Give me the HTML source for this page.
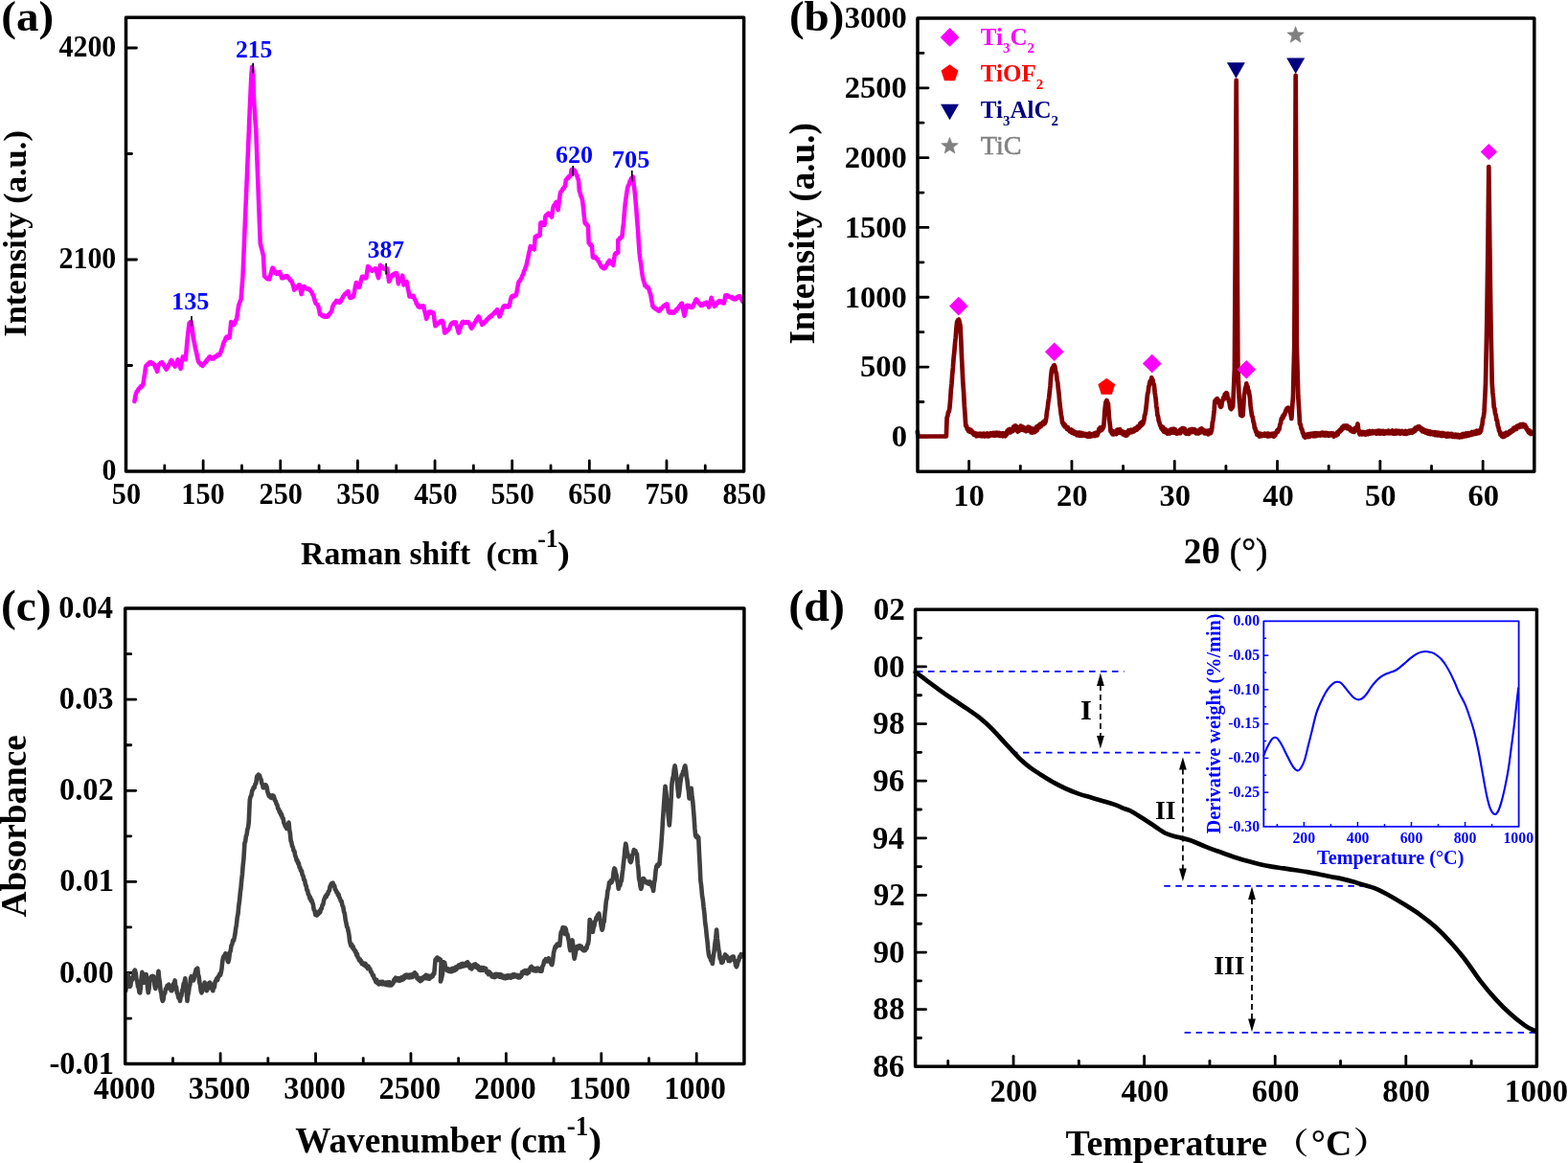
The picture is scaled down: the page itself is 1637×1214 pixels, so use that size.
<!DOCTYPE html>
<html><head><meta charset="utf-8"><title>Figure</title>
<style>html,body{margin:0;padding:0;background:#fff;width:1637px;height:1214px;overflow:hidden}svg{display:block}
text{font-family:'Liberation Serif','Times New Roman','Noto Serif CJK SC',serif}</style></head>
<body><svg width="1637" height="1214" viewBox="0 0 1637 1214">
<rect width="1637" height="1214" fill="#fff"/>
<line x1="171.82" y1="492" x2="171.82" y2="486" stroke="#000" stroke-width="2.8" stroke-linecap="round"/>
<line x1="212.14" y1="492" x2="212.14" y2="481" stroke="#000" stroke-width="2.8" stroke-linecap="round"/>
<line x1="252.46" y1="492" x2="252.46" y2="486" stroke="#000" stroke-width="2.8" stroke-linecap="round"/>
<line x1="292.77" y1="492" x2="292.77" y2="481" stroke="#000" stroke-width="2.8" stroke-linecap="round"/>
<line x1="333.09" y1="492" x2="333.09" y2="486" stroke="#000" stroke-width="2.8" stroke-linecap="round"/>
<line x1="373.41" y1="492" x2="373.41" y2="481" stroke="#000" stroke-width="2.8" stroke-linecap="round"/>
<line x1="413.73" y1="492" x2="413.73" y2="486" stroke="#000" stroke-width="2.8" stroke-linecap="round"/>
<line x1="454.05" y1="492" x2="454.05" y2="481" stroke="#000" stroke-width="2.8" stroke-linecap="round"/>
<line x1="494.37" y1="492" x2="494.37" y2="486" stroke="#000" stroke-width="2.8" stroke-linecap="round"/>
<line x1="534.69" y1="492" x2="534.69" y2="481" stroke="#000" stroke-width="2.8" stroke-linecap="round"/>
<line x1="575.01" y1="492" x2="575.01" y2="486" stroke="#000" stroke-width="2.8" stroke-linecap="round"/>
<line x1="615.33" y1="492" x2="615.33" y2="481" stroke="#000" stroke-width="2.8" stroke-linecap="round"/>
<line x1="655.64" y1="492" x2="655.64" y2="486" stroke="#000" stroke-width="2.8" stroke-linecap="round"/>
<line x1="695.96" y1="492" x2="695.96" y2="481" stroke="#000" stroke-width="2.8" stroke-linecap="round"/>
<line x1="736.28" y1="492" x2="736.28" y2="486" stroke="#000" stroke-width="2.8" stroke-linecap="round"/>
<line x1="776.6" y1="492" x2="776.6" y2="481" stroke="#000" stroke-width="2.8" stroke-linecap="round"/>
<line x1="131.5" y1="381.5" x2="137.5" y2="381.5" stroke="#000" stroke-width="2.8" stroke-linecap="round"/>
<line x1="131.5" y1="271" x2="142.5" y2="271" stroke="#000" stroke-width="2.8" stroke-linecap="round"/>
<line x1="131.5" y1="160.5" x2="137.5" y2="160.5" stroke="#000" stroke-width="2.8" stroke-linecap="round"/>
<line x1="131.5" y1="50" x2="142.5" y2="50" stroke="#000" stroke-width="2.8" stroke-linecap="round"/>
<text x="116.86" y="526.2" font-size="31" text-anchor="start" font-weight="bold" fill="#000" textLength="30.23" lengthAdjust="spacingAndGlyphs">50</text>
<text x="189.33" y="526.2" font-size="31" text-anchor="start" font-weight="bold" fill="#000" textLength="45.34" lengthAdjust="spacingAndGlyphs">150</text>
<text x="270.55" y="526.2" font-size="31" text-anchor="start" font-weight="bold" fill="#000" textLength="45.34" lengthAdjust="spacingAndGlyphs">250</text>
<text x="351.25" y="526.2" font-size="31" text-anchor="start" font-weight="bold" fill="#000" textLength="45.34" lengthAdjust="spacingAndGlyphs">350</text>
<text x="432.25" y="526.2" font-size="31" text-anchor="start" font-weight="bold" fill="#000" textLength="45.34" lengthAdjust="spacingAndGlyphs">450</text>
<text x="512.49" y="526.2" font-size="31" text-anchor="start" font-weight="bold" fill="#000" textLength="45.34" lengthAdjust="spacingAndGlyphs">550</text>
<text x="593.22" y="526.2" font-size="31" text-anchor="start" font-weight="bold" fill="#000" textLength="45.34" lengthAdjust="spacingAndGlyphs">650</text>
<text x="673.51" y="526.2" font-size="31" text-anchor="start" font-weight="bold" fill="#000" textLength="45.34" lengthAdjust="spacingAndGlyphs">750</text>
<text x="754.51" y="526.2" font-size="31" text-anchor="start" font-weight="bold" fill="#000" textLength="45.34" lengthAdjust="spacingAndGlyphs">850</text>
<text x="106.38" y="500.8" font-size="31" text-anchor="start" font-weight="bold" fill="#000" textLength="14.96" lengthAdjust="spacingAndGlyphs">0</text>
<text x="61.51" y="279.8" font-size="31" text-anchor="start" font-weight="bold" fill="#000" textLength="59.83" lengthAdjust="spacingAndGlyphs">2100</text>
<text x="61.51" y="58.8" font-size="31" text-anchor="start" font-weight="bold" fill="#000" textLength="59.83" lengthAdjust="spacingAndGlyphs">4200</text>
<path d="M140.4 419 L141.9 410.9 L142.87 408.76 L143.83 407.96 L144.8 405.7 L145.7 405.42 L146.6 403.67 L147.5 404.04 L148.4 402.4 L149.3 402 L150.27 395.01 L151.23 389.3 L152.2 382 L153.1 381.65 L154 380.07 L154.9 380.42 L155.8 378.46 L156.7 378.2 L157.58 378.02 L158.46 379.62 L159.34 379.02 L160.22 380.41 L161.1 380.5 L162.1 383.53 L163.1 384.78 L164.1 387.9 L165.6 380.5 L166.53 380.44 L167.45 378.75 L168.38 379.35 L169.3 378.2 L170.18 380.04 L171.06 380.59 L171.94 383.24 L172.82 383.77 L173.7 385.7 L174.57 383.76 L175.43 383.11 L176.3 380.35 L177.17 379.83 L178.03 376.96 L178.9 376 L179.82 377.09 L180.75 380.02 L181.68 380.56 L182.6 382.7 L183.6 379.61 L184.6 378.25 L185.6 375.3 L186.6 379.18 L187.6 381.05 L188.6 384.9 L189.7 378.25 L190.8 372.3 L191.8 372.93 L192.8 374.7 L193.8 375.3 L195.2 358.2 L196.35 347.16 L197.5 337.5 L198.6 336.27 L199.7 336 L200.8 344.34 L201.9 353.8 L203 358.57 L204.1 364.2 L205.1 368.12 L206.1 373.53 L207.1 377.5 L207.98 378.85 L208.86 378.76 L209.74 380.74 L210.62 380.44 L211.5 382 L212.65 379.92 L213.8 379 L214.67 377.21 L215.53 377.41 L216.4 374.95 L217.27 375.11 L218.13 373.04 L219 372.3 L219.97 372.39 L220.93 374.45 L221.9 374.5 L222.82 374.44 L223.75 372.52 L224.68 372.91 L225.6 371.6 L226.53 371.62 L227.45 370.21 L228.38 371.01 L229.3 370.1 L230.45 367.57 L231.6 364.2 L232.7 360.79 L233.8 356.7 L234.77 355.64 L235.73 352.6 L236.7 351.6 L237.7 351.48 L238.7 352.69 L239.7 352.3 L241.2 336 L242.2 336.53 L243.2 338.37 L244.2 339 L245.17 337.43 L246.13 334.39 L247.1 333 L248.2 324.95 L249.3 318.2 L250.45 315.11 L251.6 312.3 L252.55 299.96 L253.5 288.1 L254.57 262.29 L255.63 237.02 L256.7 211.1 L257.77 185.92 L258.83 160.09 L259.9 135 L260.9 110 L261.6 95 L262.4 78 L263.2 69.8 L264.2 78 L264.9 100 L265.4 110 L266.3 122.8 L267.2 135 L268.7 175 L269.7 201.08 L270.7 227.9 L271.7 253.9 L272.77 258.35 L273.83 262.29 L274.9 266.7 L276 288.1 L277.07 289.4 L278.13 290.09 L279.2 291.3 L280.2 291.23 L281.2 291.5 L282.02 288.32 L282.85 285.79 L283.68 282.41 L284.5 279.6 L285.36 280.55 L286.22 282.81 L287.08 283 L287.94 285.4 L288.8 286 L289.87 285.96 L290.93 284.14 L292 283.9 L293.1 286.61 L294.2 290.3 L295.08 289.42 L295.97 290.13 L296.85 288.66 L297.73 289.36 L298.62 287.91 L299.5 288.1 L300.4 288.49 L301.3 290.74 L302.2 290.82 L303.1 292.96 L304 293.03 L304.9 294.5 L306.05 298.12 L307.2 302.6 L308.07 301.04 L308.93 301.38 L309.8 299.47 L310.67 299.45 L311.53 297.79 L312.4 297.4 L313.5 301.71 L314.6 307.1 L315.7 302.68 L316.8 298.9 L317.87 299.08 L318.93 300.93 L320 301.1 L320.93 301.74 L321.85 301.14 L322.77 302.49 L323.7 302.3 L324.6 304.4 L325.5 304.9 L326.4 307.46 L327.3 308.4 L328.25 312.65 L329.2 315.7 L330.2 317.26 L331.2 317.83 L332.2 319.4 L333.1 323.12 L334 328 L335.03 327.91 L336.07 329.61 L337.1 329.8 L337.92 330.39 L338.73 329.46 L339.55 330.54 L340.37 329.74 L341.18 330.74 L342 330.4 L342.93 329.63 L343.85 327.41 L344.77 327.16 L345.7 325.5 L346.5 323.53 L347.3 320.02 L348.1 318.2 L349.13 316.44 L350.17 315.87 L351.2 313.9 L352.1 314.95 L353 314.37 L353.9 315.65 L354.8 315.7 L355.66 314.86 L356.52 312.37 L357.38 311.71 L358.24 309.38 L359.1 308.4 L359.96 306.96 L360.82 307.03 L361.68 305.38 L362.54 305.4 L363.4 304.1 L364.3 308.14 L365.2 310.9 L366.12 311.06 L367.05 309.61 L367.97 310.31 L368.9 309.6 L369.9 305.18 L370.9 299.3 L371.9 295 L372.93 295.98 L373.97 298.76 L375 299.9 L376 296.63 L377 292.21 L378 288.9 L378.86 288.62 L379.72 289.77 L380.58 288.99 L381.44 290.5 L382.3 290.1 L383.2 284.39 L384.1 277.9 L384.96 279.3 L385.82 279.23 L386.68 281.4 L387.54 281.19 L388.4 282.8 L389.32 281.73 L390.25 281.91 L391.18 280.5 L392.1 280.3 L393.1 282.95 L394.1 287.25 L395.1 290.1 L396.05 283.85 L397 276.7 L397.9 278.08 L398.8 278.02 L399.7 279.87 L400.6 280.3 L401.53 280.97 L402.45 279.92 L403.38 280.62 L404.3 280.3 L405.2 287.73 L406.1 293.8 L407.13 292.39 L408.17 288.97 L409.2 287.6 L410.02 286.72 L410.83 287.48 L411.65 285.73 L412.47 286.4 L413.28 285 L414.1 285.2 L415 290.06 L415.9 296.2 L416.76 293.91 L417.62 293.27 L418.48 290.61 L419.34 289.77 L420.2 287.6 L421.4 297.4 L422.43 295.8 L423.47 295.34 L424.5 293.8 L425.5 299.61 L426.5 303.91 L427.5 309.6 L428.36 308.85 L429.22 309.69 L430.08 308.58 L430.94 309.7 L431.8 309 L432.8 312.34 L433.8 313.67 L434.8 317 L435.63 317.54 L436.47 319.94 L437.3 320.6 L438.12 320.72 L438.93 319.6 L439.75 320.38 L440.57 319.37 L441.38 320.17 L442.2 319.4 L443.2 324.42 L444.2 327.93 L445.2 332.9 L446.03 329.76 L446.87 328.52 L447.7 325.5 L448.52 326.15 L449.33 325.49 L450.15 326.75 L450.97 325.8 L451.78 327.12 L452.6 326.7 L453.5 333.9 L454.4 340.2 L455.32 339.67 L456.25 337.83 L457.18 338.05 L458.1 336.5 L458.94 336.64 L459.78 335.4 L460.62 336.45 L461.46 334.91 L462.3 335.3 L463.25 340.77 L464.2 347.5 L465.04 346.44 L465.88 346.58 L466.72 344.63 L467.56 344.87 L468.4 343.8 L469.43 342.19 L470.47 339.31 L471.5 337.7 L472.36 336.94 L473.22 337.7 L474.08 336.48 L474.94 337.35 L475.8 336.5 L476.8 340.48 L477.8 343.5 L478.8 347.5 L479.73 344.39 L480.65 342.36 L481.57 338.91 L482.5 336.5 L483.34 335.81 L484.18 337.14 L485.01 336.15 L485.85 337.01 L486.69 336.06 L487.52 336.94 L488.36 336.05 L489.2 336.5 L490.23 337.97 L491.27 341.11 L492.3 342.6 L493.11 341.7 L493.92 339.5 L494.73 338.97 L495.54 336.82 L496.36 336.35 L497.17 333.88 L497.98 333.57 L498.79 331.41 L499.6 330.4 L500.53 332.17 L501.45 335.16 L502.38 336.3 L503.3 339 L504.14 337.53 L504.98 337.76 L505.81 335.83 L506.65 336.15 L507.49 334.27 L508.32 334.36 L509.16 332.54 L510 332.2 L510.82 330.91 L511.63 331.28 L512.45 329.52 L513.27 329.89 L514.08 328.29 L514.9 328 L515.74 326.5 L516.58 326.62 L517.42 324.72 L518.26 324.56 L519.1 323.1 L520.3 327.28 L521.5 330.5 L522.34 329.01 L523.18 325.54 L524.02 324.54 L524.86 321.28 L525.7 319.8 L526.51 319.18 L527.33 320.22 L528.14 319.31 L528.96 320.16 L529.77 319.17 L530.59 320.37 L531.4 319.8 L532.23 317.16 L533.07 312.58 L533.9 309.9 L534.73 309.04 L535.57 309.93 L536.4 308.52 L537.23 309.12 L538.07 307.94 L538.9 308.2 L540.1 301.28 L541.3 295 L542.12 293.4 L542.95 293.16 L543.77 290.99 L544.6 290.1 L545.43 287.55 L546.27 286.05 L547.1 282.85 L547.93 281.68 L548.77 278.78 L549.6 276.9 L550.42 272.3 L551.24 269.34 L552.06 264.38 L552.88 261.63 L553.7 257.1 L554.52 258.4 L555.34 257.74 L556.16 259.62 L556.98 259.12 L557.8 260.4 L558.7 247.2 L559.52 247.26 L560.33 246.06 L561.15 246.91 L561.97 245.54 L562.78 246.22 L563.6 245.6 L564.4 232.4 L565.24 232.28 L566.08 234.03 L566.92 233.5 L567.76 234.76 L568.6 234.8 L569.4 225.8 L570.23 224.44 L571.05 224.78 L571.88 222.92 L572.7 222.5 L573.53 223.14 L574.35 224.96 L575.17 225.02 L576 226.6 L576.8 220.64 L577.6 215.9 L578.42 214.18 L579.25 213.86 L580.08 211.68 L580.9 210.9 L581.75 214.6 L582.6 219.2 L583.8 209.62 L585 201 L585.83 199.55 L586.67 199.31 L587.5 197.01 L588.33 197.07 L589.17 194.9 L590 194.4 L590.8 187.8 L591.63 187.36 L592.47 185.59 L593.3 185.96 L594.13 183.96 L594.97 184.23 L595.8 182.9 L596.6 177.1 L597.42 176.8 L598.25 178.06 L599.08 177.04 L599.9 177.9 L600.72 179.51 L601.54 182.21 L602.36 183.24 L603.18 186.49 L604 187.8 L604.8 199.4 L605.62 201.36 L606.45 204.84 L607.27 206.23 L608.1 209.3 L608.93 216.61 L609.77 225.12 L610.6 232.4 L611.42 233.62 L612.25 233.51 L613.08 235.31 L613.9 235.7 L614.7 253.8 L615.53 254.22 L616.35 256.03 L617.17 255.59 L618 257.1 L618.9 268.6 L619.73 269.03 L620.55 268.01 L621.38 269.07 L622.2 268.6 L623.03 270.49 L623.85 270.56 L624.67 272.77 L625.5 273.6 L626.7 276.45 L627.9 278.5 L628.73 279.25 L629.55 278.85 L630.38 280.24 L631.2 280.2 L632.03 279.2 L632.87 276.98 L633.7 276.49 L634.53 274.05 L635.37 273.65 L636.2 271.9 L637.02 273.6 L637.84 273.4 L638.66 275.45 L639.48 275.4 L640.3 276.9 L641.1 270.51 L641.9 265.4 L642.73 264.34 L643.55 265.08 L644.38 263.62 L645.2 263.7 L645.2 250.5 L646.04 250.43 L646.88 248.54 L647.72 248.99 L648.56 247.26 L649.4 247.2 L650.2 239.12 L651 232.4 L651.85 222.01 L652.7 212.6 L653.9 203.95 L655.1 196.1 L655.92 193.62 L656.75 192.54 L657.58 189.3 L658.4 187.8 L659.23 186.02 L660.07 186.24 L660.9 184.5 L661.73 192.61 L662.57 199.51 L663.4 207.6 L664.23 217.65 L665.07 228.92 L665.9 239 L666.7 251.94 L667.5 263.7 L668.33 270.52 L669.15 275.39 L669.97 282.64 L670.8 288.4 L671.63 292.35 L672.47 294.56 L673.3 298.3 L674.12 298.25 L674.95 299.75 L675.77 299.23 L676.6 300 L677.43 301.85 L678.27 305.04 L679.1 306.6 L680.3 313.63 L681.5 319.8 L682.33 320.86 L683.15 320.49 L683.98 322.21 L684.8 321.93 L685.62 323.31 L686.45 322.99 L687.27 324.59 L688.1 324.7 L688.92 324.07 L689.75 322.11 L690.58 322.31 L691.4 320.6 L692.23 320.52 L693.07 318.98 L693.9 319.31 L694.73 317.98 L695.57 318.42 L696.4 317.3 L697.2 321.81 L698 325.6 L698.83 326.37 L699.66 325.16 L700.49 326.3 L701.31 325.38 L702.14 326.63 L702.97 325.67 L703.8 326.4 L704.62 324.79 L705.44 324.83 L706.26 322.82 L707.08 322.97 L707.9 321.4 L708.72 321.05 L709.54 319.02 L710.36 319.07 L711.18 316.79 L712 316.5 L712.83 320.33 L713.67 325.82 L714.5 329.7 L715.33 326.49 L716.17 322.06 L717 319 L717.83 318.78 L718.66 320.05 L719.49 319.11 L720.31 320.45 L721.14 319.76 L721.97 320.94 L722.8 320.6 L723.62 319.52 L724.44 316.94 L725.26 316.34 L726.08 313.47 L726.9 312.4 L727.72 313.14 L728.53 315.27 L729.35 315.33 L730.17 317.24 L730.98 317.31 L731.8 319 L732.63 317.98 L733.46 318.59 L734.29 317.02 L735.11 317.61 L735.94 316.21 L736.77 316.55 L737.6 315.7 L738.43 317.67 L739.27 318.38 L740.1 320.6 L740.93 316.69 L741.77 314.52 L742.6 310.7 L743.42 313.57 L744.25 314.8 L745.08 317.94 L745.9 319.8 L746.72 319.3 L747.53 317.22 L748.35 317.23 L749.17 315.42 L749.98 315.38 L750.8 314 L751.63 315.03 L752.47 314.38 L753.3 315.69 L754.13 315.2 L754.97 316.61 L755.8 316.5 L756.6 312.96 L757.4 308.2 L758.23 308.93 L759.07 308.13 L759.9 309.41 L760.73 308.91 L761.57 309.97 L762.4 309.9 L763.22 310.68 L764.03 310.12 L764.85 311.75 L765.67 311.18 L766.48 312.37 L767.3 312.4 L768.12 312.33 L768.93 310.7 L769.75 311.38 L770.57 309.6 L771.38 310.19 L772.2 309.1 L773.03 310.9 L773.85 311.48 L774.67 313.76 L775.5 314.8" fill="none" stroke="#ff00ff" stroke-width="4.5" stroke-linejoin="round" stroke-linecap="round" />
<line x1="200" y1="330" x2="200" y2="340.4" stroke="#000" stroke-width="1.6" />
<text x="178.99" y="323.4" font-size="26" text-anchor="start" font-weight="bold" fill="#0000ff" textLength="39.47" lengthAdjust="spacingAndGlyphs">135</text>
<line x1="264.2" y1="65.7" x2="264.2" y2="76.4" stroke="#000" stroke-width="1.6" />
<text x="246.02" y="60.3" font-size="26" text-anchor="start" font-weight="bold" fill="#0000ff" textLength="38.41" lengthAdjust="spacingAndGlyphs">215</text>
<line x1="403.1" y1="274.8" x2="403.1" y2="286.4" stroke="#000" stroke-width="1.6" />
<text x="383.84" y="269.3" font-size="26" text-anchor="start" font-weight="bold" fill="#0000ff" textLength="38.18" lengthAdjust="spacingAndGlyphs">387</text>
<line x1="598.2" y1="173" x2="598.2" y2="183.7" stroke="#000" stroke-width="1.6" />
<text x="580.01" y="169.7" font-size="26" text-anchor="start" font-weight="bold" fill="#0000ff" >620</text>
<line x1="659.8" y1="177.9" x2="659.8" y2="189.5" stroke="#000" stroke-width="1.6" />
<text x="638.79" y="174.6" font-size="26" text-anchor="start" font-weight="bold" fill="#0000ff" textLength="39.57" lengthAdjust="spacingAndGlyphs">705</text>
<rect x="131.5" y="18.3" width="645.1" height="473.7" fill="none" stroke="#000" stroke-width="3.5" stroke-linejoin="round"/>
<text x="1.33" y="32.4" font-size="45.2" text-anchor="start" font-weight="bold" fill="#000" textLength="54.94" lengthAdjust="spacingAndGlyphs">(a)</text>
<text x="314.12" y="589.2" font-size="34.4" text-anchor="start" font-weight="bold" fill="#000" textLength="177.02" lengthAdjust="spacingAndGlyphs">Raman shift</text>
<text x="507.41" y="589.2" font-size="34.4" text-anchor="start" font-weight="bold" fill="#000" textLength="54.46" lengthAdjust="spacingAndGlyphs">(cm</text>
<text x="561.16" y="570.8" font-size="27" text-anchor="start" font-weight="bold" fill="#000" textLength="21.37" lengthAdjust="spacingAndGlyphs">-1</text>
<text x="581.96" y="589.2" font-size="34.4" text-anchor="start" font-weight="bold" fill="#000" textLength="12.84" lengthAdjust="spacingAndGlyphs">)</text>
<text x="0" y="0" font-size="34.5" text-anchor="start" font-weight="bold" fill="#000" transform="translate(26.5 351.76) rotate(-90)" >Intensity (a.u.)</text>
<line x1="1011.65" y1="492.3" x2="1011.65" y2="481.3" stroke="#000" stroke-width="2.8" stroke-linecap="round"/>
<line x1="1065.3" y1="492.3" x2="1065.3" y2="486.3" stroke="#000" stroke-width="2.8" stroke-linecap="round"/>
<line x1="1118.95" y1="492.3" x2="1118.95" y2="481.3" stroke="#000" stroke-width="2.8" stroke-linecap="round"/>
<line x1="1172.6" y1="492.3" x2="1172.6" y2="486.3" stroke="#000" stroke-width="2.8" stroke-linecap="round"/>
<line x1="1226.25" y1="492.3" x2="1226.25" y2="481.3" stroke="#000" stroke-width="2.8" stroke-linecap="round"/>
<line x1="1279.9" y1="492.3" x2="1279.9" y2="486.3" stroke="#000" stroke-width="2.8" stroke-linecap="round"/>
<line x1="1333.55" y1="492.3" x2="1333.55" y2="481.3" stroke="#000" stroke-width="2.8" stroke-linecap="round"/>
<line x1="1387.2" y1="492.3" x2="1387.2" y2="486.3" stroke="#000" stroke-width="2.8" stroke-linecap="round"/>
<line x1="1440.85" y1="492.3" x2="1440.85" y2="481.3" stroke="#000" stroke-width="2.8" stroke-linecap="round"/>
<line x1="1494.5" y1="492.3" x2="1494.5" y2="486.3" stroke="#000" stroke-width="2.8" stroke-linecap="round"/>
<line x1="1548.15" y1="492.3" x2="1548.15" y2="481.3" stroke="#000" stroke-width="2.8" stroke-linecap="round"/>
<line x1="958" y1="455.89" x2="969" y2="455.89" stroke="#000" stroke-width="2.8" stroke-linecap="round"/>
<line x1="958" y1="419.48" x2="964" y2="419.48" stroke="#000" stroke-width="2.8" stroke-linecap="round"/>
<line x1="958" y1="383.08" x2="969" y2="383.08" stroke="#000" stroke-width="2.8" stroke-linecap="round"/>
<line x1="958" y1="346.67" x2="964" y2="346.67" stroke="#000" stroke-width="2.8" stroke-linecap="round"/>
<line x1="958" y1="310.26" x2="969" y2="310.26" stroke="#000" stroke-width="2.8" stroke-linecap="round"/>
<line x1="958" y1="273.85" x2="964" y2="273.85" stroke="#000" stroke-width="2.8" stroke-linecap="round"/>
<line x1="958" y1="237.45" x2="969" y2="237.45" stroke="#000" stroke-width="2.8" stroke-linecap="round"/>
<line x1="958" y1="201.04" x2="964" y2="201.04" stroke="#000" stroke-width="2.8" stroke-linecap="round"/>
<line x1="958" y1="164.63" x2="969" y2="164.63" stroke="#000" stroke-width="2.8" stroke-linecap="round"/>
<line x1="958" y1="128.22" x2="964" y2="128.22" stroke="#000" stroke-width="2.8" stroke-linecap="round"/>
<line x1="958" y1="91.82" x2="969" y2="91.82" stroke="#000" stroke-width="2.8" stroke-linecap="round"/>
<line x1="958" y1="55.41" x2="964" y2="55.41" stroke="#000" stroke-width="2.8" stroke-linecap="round"/>
<text x="995.17" y="528.1" font-size="32.6" text-anchor="start" font-weight="bold" fill="#000" >10</text>
<text x="1103.09" y="528.1" font-size="32.6" text-anchor="start" font-weight="bold" fill="#000" >20</text>
<text x="1210.46" y="528.1" font-size="32.6" text-anchor="start" font-weight="bold" fill="#000" >30</text>
<text x="1318.15" y="528.1" font-size="32.6" text-anchor="start" font-weight="bold" fill="#000" >40</text>
<text x="1425.02" y="528.1" font-size="32.6" text-anchor="start" font-weight="bold" fill="#000" >50</text>
<text x="1532.41" y="528.1" font-size="32.6" text-anchor="start" font-weight="bold" fill="#000" >60</text>
<text x="930.64" y="466.29" font-size="32.6" text-anchor="start" font-weight="bold" fill="#000" >0</text>
<text x="898.04" y="393.48" font-size="32.6" text-anchor="start" font-weight="bold" fill="#000" >500</text>
<text x="881.74" y="320.66" font-size="32.6" text-anchor="start" font-weight="bold" fill="#000" >1000</text>
<text x="881.74" y="247.85" font-size="32.6" text-anchor="start" font-weight="bold" fill="#000" >1500</text>
<text x="881.74" y="175.03" font-size="32.6" text-anchor="start" font-weight="bold" fill="#000" >2000</text>
<text x="881.74" y="102.22" font-size="32.6" text-anchor="start" font-weight="bold" fill="#000" >2500</text>
<text x="881.74" y="29.4" font-size="32.6" text-anchor="start" font-weight="bold" fill="#000" >3000</text>
<path d="M957.8 450.6 L958.5 455.5 L959.11 455.5 L959.73 455.5 L960.34 455.5 L960.95 455.5 L961.56 455.5 L962.17 455.5 L962.79 455.5 L963.4 455.5 L964.01 455.5 L964.62 455.5 L965.24 455.5 L965.85 455.5 L966.46 455.5 L967.08 455.5 L967.69 455.5 L968.3 455.5 L968.91 455.5 L969.52 455.5 L970.14 455.5 L970.75 455.5 L971.36 455.5 L971.98 455.5 L972.59 455.5 L973.2 455.5 L973.81 455.5 L974.42 455.5 L975.04 455.5 L975.65 455.5 L976.26 455.5 L976.88 455.5 L977.49 455.5 L978.1 455.5 L978.71 455.5 L979.32 455.5 L979.94 455.5 L980.55 455.5 L981.16 455.5 L981.77 455.5 L982.39 455.5 L983 455.5 L983.61 455.5 L984.23 455.5 L984.84 455.5 L985.45 455.5 L986.06 455.5 L986.67 455.5 L987.29 455.5 L987.9 455.5 L988.6 435.9 L989.3 434.43 L990 430.1 L990.7 429.77 L991.4 426 L992.1 418.03 L992.8 407.31 L993.5 400.79 L994.2 391 L994.9 383.72 L995.6 373.73 L996.3 367.6 L997 358.8 L997.7 352.43 L998.4 343.09 L999.1 336.4 L1000 334.2 L1000.9 333.6 L1001.75 336.01 L1002.6 340.6 L1003.3 354.55 L1004 372.23 L1004.7 386.8 L1005.4 399.85 L1006.1 409.79 L1006.8 423.2 L1007.5 432.2 L1008.2 444.3 L1008.97 444.31 L1009.73 447.84 L1010.5 448 L1011.16 449.96 L1011.82 448 L1012.48 450.62 L1013.14 448.55 L1013.8 449.9 L1014.53 449.75 L1015.27 452.12 L1016 452 L1016.67 453.66 L1017.33 451.9 L1018 454 L1018.6 453.12 L1019.2 455.23 L1019.8 452.72 L1020.4 455.05 L1021 452.8 L1021.6 454.78 L1022.2 453.23 L1022.8 454.9 L1023.4 452.68 L1024 455.1 L1024.6 453 L1025.2 455.24 L1025.8 452.88 L1026.4 454.98 L1027 452.58 L1027.6 455.34 L1028.2 453.07 L1028.8 455.23 L1029.4 452.82 L1030 454 L1030.62 452.45 L1031.25 455.24 L1031.88 452.84 L1032.5 455.33 L1033.12 452.86 L1033.75 454.71 L1034.38 452.18 L1035 454.35 L1035.62 452.29 L1036.25 454.13 L1036.88 452 L1037.5 454.64 L1038.12 451.96 L1038.75 454.62 L1039.38 452.07 L1040 453 L1040.6 451.73 L1041.2 454.36 L1041.8 451.95 L1042.4 454.36 L1043 451.83 L1043.6 454.9 L1044.2 452.27 L1044.8 454.78 L1045.4 452.76 L1046 454.93 L1046.6 452.36 L1047.2 455.3 L1047.8 452.32 L1048.4 454.79 L1049 452.82 L1049.6 455.25 L1050.2 454 L1050.9 453.73 L1051.6 449.56 L1052.3 451.18 L1053 448.5 L1053.6 450.03 L1054.2 447.94 L1054.8 451.49 L1055.4 448.45 L1056 450 L1056.67 447.88 L1057.33 450.16 L1058 445.62 L1058.67 448.32 L1059.33 444.74 L1060 445.7 L1060.6 444.55 L1061.2 449.27 L1061.8 445.52 L1062.4 450.56 L1063 449 L1063.67 449.9 L1064.33 446.27 L1065 448.9 L1065.67 444.55 L1066.33 448.59 L1067 445.7 L1067.6 447.64 L1068.2 445.71 L1068.8 449.07 L1069.4 446.95 L1070 449 L1070.67 446.95 L1071.33 450.19 L1072 446.57 L1072.67 448.75 L1073.33 445.7 L1074 447 L1074.6 446.03 L1075.2 450.03 L1075.8 446.46 L1076.4 451.39 L1077 450 L1077.67 451.51 L1078.33 447.6 L1079 451.22 L1079.67 447.85 L1080.33 451.02 L1081 448.5 L1081.6 450.11 L1082.2 445.27 L1082.8 449.13 L1083.4 444.9 L1084 446 L1084.67 443.88 L1085.33 446.18 L1086 442.53 L1086.67 445.1 L1087.33 442.25 L1088 442.9 L1088.72 440.96 L1089.44 443.03 L1090.16 439.63 L1090.88 441.73 L1091.6 440 L1092.3 436.05 L1093 429.81 L1093.7 426 L1094.4 419.59 L1095.1 415.84 L1095.8 409.2 L1096.5 402.48 L1097.2 392.78 L1097.9 386.8 L1098.6 384.14 L1099.3 384.85 L1100 381.66 L1100.7 381.2 L1101.4 382.97 L1102.1 387.84 L1102.8 389.6 L1103.5 396.03 L1104.2 399.33 L1104.9 406.4 L1105.6 411.34 L1106.3 420.6 L1107 426 L1107.7 432.31 L1108.4 435.54 L1109.1 441.5 L1109.7 441.29 L1110.3 443.72 L1110.9 442.35 L1111.5 445.35 L1112.1 443.64 L1112.7 445.84 L1113.3 445.7 L1114 447.96 L1114.7 445.92 L1115.4 448.65 L1116.1 448.5 L1116.74 450.08 L1117.37 448.52 L1118.01 450.83 L1118.65 448.45 L1119.28 451.89 L1119.92 449.46 L1120.55 452.12 L1121.19 450.51 L1121.83 452.8 L1122.46 450.92 L1123.1 452.7 L1123.73 451.58 L1124.35 454.24 L1124.98 451.9 L1125.61 453.89 L1126.23 451.61 L1126.86 454.7 L1127.48 451.71 L1128.11 454.68 L1128.74 451.88 L1129.36 454.76 L1129.99 452.53 L1130.62 454.7 L1131.24 452.56 L1131.87 454.4 L1132.49 452.98 L1133.12 454.76 L1133.75 452.92 L1134.37 455.26 L1135 454 L1135.62 455.57 L1136.25 452.91 L1136.88 455.58 L1137.5 452.46 L1138.12 455.62 L1138.75 453.03 L1139.38 455 L1140 454.1 L1140.61 454.9 L1141.22 452.97 L1141.83 454.64 L1142.44 452.35 L1143.05 455.01 L1143.66 451.92 L1144.27 454.4 L1144.88 451.85 L1145.49 454.44 L1146.1 452.9 L1146.7 451.24 L1147.3 448 L1147.92 449.3 L1148.55 446.48 L1149.17 449.41 L1149.8 448 L1150.4 448.76 L1151 445.61 L1151.6 447 L1152.2 445.5 L1152.8 438.36 L1153.4 428.4 L1154.4 419.9 L1155.5 418 L1156.2 420.56 L1156.9 421.1 L1158.1 438.2 L1158.8 442.88 L1159.5 450.4 L1160.11 448.84 L1160.72 452.29 L1161.34 450.06 L1161.95 453.49 L1162.56 450.35 L1163.18 453.31 L1163.79 451.6 L1164.4 452.9 L1165.05 451.04 L1165.7 453 L1166.35 448.65 L1167 449.5 L1167.7 448.67 L1168.4 451.58 L1169.1 448.16 L1169.8 451.76 L1170.5 450.4 L1171.12 452.27 L1171.75 450.27 L1172.38 453.34 L1173 453 L1173.62 453.85 L1174.23 451.1 L1174.85 454.48 L1175.47 451.53 L1176.08 454.75 L1176.7 452.9 L1177.4 453.36 L1178.1 449.43 L1178.8 452.07 L1179.5 449.5 L1180.16 450.76 L1180.82 448.74 L1181.48 451.2 L1182.14 449.11 L1182.8 450.4 L1183.44 448.35 L1184.08 450.37 L1184.72 447.37 L1185.36 449.07 L1186 447.5 L1186.72 448.81 L1187.45 445.28 L1188.18 447.33 L1188.9 445.5 L1189.51 446.35 L1190.12 442.48 L1190.74 444.96 L1191.35 441.24 L1191.96 443.82 L1192.58 440.41 L1193.19 442.39 L1193.8 440.6 L1194.4 438.29 L1195 433.39 L1195.6 432.33 L1196.2 428.4 L1197.1 420.57 L1198 411.3 L1198.63 409.46 L1199.27 403.9 L1199.9 401.5 L1200.7 397.93 L1201.5 397.99 L1202.3 394.2 L1202.92 397.23 L1203.55 396.84 L1204.17 400.85 L1204.8 401.5 L1205.7 410.06 L1206.6 416.2 L1207.2 423.31 L1207.8 426.79 L1208.4 433.3 L1209.03 434.52 L1209.67 439.11 L1210.3 440.6 L1211.2 444.01 L1212.1 445.5 L1212.7 447.52 L1213.3 445.2 L1213.9 448.94 L1214.5 446.14 L1215.1 450.58 L1215.7 449.2 L1216.31 450.99 L1216.93 448.2 L1217.54 451.71 L1218.16 448.98 L1218.77 452.59 L1219.39 449.7 L1220 451.5 L1220.62 449.63 L1221.25 452.37 L1221.88 448.53 L1222.5 452 L1223.12 447.98 L1223.75 451.66 L1224.38 448.07 L1225 449 L1225.62 447.78 L1226.25 451.78 L1226.88 448.21 L1227.5 451.6 L1228.12 449.79 L1228.75 452.71 L1229.38 450.6 L1230 452 L1230.62 450.34 L1231.25 452.15 L1231.88 448.97 L1232.5 452.1 L1233.12 447.83 L1233.75 450.5 L1234.38 447.17 L1235 448.5 L1235.62 447.17 L1236.25 450.36 L1236.88 447.66 L1237.5 452.06 L1238.12 449.18 L1238.75 452.8 L1239.38 449.72 L1240 451.5 L1240.62 449.68 L1241.25 452.96 L1241.88 448.66 L1242.5 451.38 L1243.12 448.49 L1243.75 451.17 L1244.38 447.98 L1245 449 L1245.62 448.14 L1246.25 450.94 L1246.88 448.16 L1247.5 451.22 L1248.12 448.98 L1248.75 452.33 L1249.38 450.22 L1250 451.5 L1250.62 449.86 L1251.25 452.54 L1251.88 449.03 L1252.5 451.27 L1253.12 447.85 L1253.75 451.48 L1254.38 447.25 L1255 449 L1255.62 448.31 L1256.25 451 L1256.88 449.13 L1257.5 452.34 L1258.12 449.62 L1258.75 452.34 L1259.38 450.19 L1260 452 L1260.66 449.77 L1261.31 453.43 L1261.97 450.07 L1262.63 452.2 L1263.29 448.85 L1263.94 452.23 L1264.6 450.4 L1265.22 447.88 L1265.85 440.8 L1266.47 438.59 L1267.1 433.3 L1267.7 427.69 L1268.3 418.6 L1268.9 419.84 L1269.5 417.17 L1270.1 420.03 L1270.7 416.12 L1271.3 419.47 L1271.9 417.4 L1272.53 420.29 L1273.15 419.17 L1273.78 423.97 L1274.4 424.8 L1275.2 424.27 L1276 418.4 L1276.8 417.4 L1277.42 414.85 L1278.03 416.55 L1278.65 411.73 L1279.27 413.79 L1279.88 410.22 L1280.5 410.1 L1281.1 410.67 L1281.7 415.57 L1282.3 415.4 L1282.9 418.6 L1283.53 420.14 L1284.17 424.94 L1284.8 426.6 L1285.4 427 L1286 423.74 L1286.6 425.57 L1287.2 423.5 L1288.05 405.34 L1288.9 384.4 L1289.8 250 L1290.7 83.9 L1291.6 250 L1292.4 384 L1293.6 415 L1294.4 423.17 L1295.2 433.3 L1296 432.14 L1296.8 434.18 L1297.6 433.3 L1298.2 423.93 L1298.8 412.5 L1299.42 410.19 L1300.05 405.46 L1300.67 404.08 L1301.3 400.3 L1301.9 403.87 L1302.5 403.5 L1303.1 407.79 L1303.7 407.96 L1304.3 411.3 L1304.93 415.46 L1305.57 423.51 L1306.2 428.4 L1307 433.91 L1307.8 435.43 L1308.6 440.6 L1309.2 441.89 L1309.8 446.95 L1310.4 446.88 L1311 450.4 L1311.62 450.16 L1312.25 453.58 L1312.88 451.59 L1313.5 454.1 L1314.15 453.07 L1314.8 455.53 L1315.45 452.73 L1316.1 455.34 L1316.75 452.97 L1317.4 455.07 L1318.05 453.26 L1318.7 454.85 L1319.35 453.23 L1320 454 L1320.62 452.63 L1321.25 454.96 L1321.87 453.15 L1322.49 454.82 L1323.12 452.57 L1323.74 455.52 L1324.36 452.73 L1324.99 455.02 L1325.61 453.12 L1326.24 455.04 L1326.86 452.94 L1327.48 454.93 L1328.11 452.96 L1328.73 455.03 L1329.35 452.52 L1329.98 455.67 L1330.6 454.1 L1331.3 454.47 L1332 451.5 L1332.7 451.6 L1333.4 449.13 L1334.1 450.79 L1334.8 447.87 L1335.5 448 L1336.27 443.61 L1337.03 441.72 L1337.8 437 L1338.44 437.4 L1339.08 434.36 L1339.72 435.68 L1340.36 432.88 L1341 433.3 L1341.9 429.83 L1342.8 427.8 L1343.44 426.49 L1344.08 427.88 L1344.72 425.65 L1345.36 427.12 L1346 426 L1346.77 430.41 L1347.53 432.35 L1348.3 437 L1349.15 424.58 L1350 414 L1350.65 385.76 L1351.3 360 L1352.2 200 L1352.7 78.9 L1353.2 200 L1353.8 360 L1354.55 385.81 L1355.3 414 L1356.15 426.87 L1357 442.5 L1357.77 443.03 L1358.53 447.52 L1359.3 448 L1359.93 451.93 L1360.57 451.8 L1361.2 455.3 L1361.83 454.2 L1362.46 456.7 L1363.09 454.17 L1363.71 456.29 L1364.34 453.55 L1364.97 455.5 L1365.6 453.19 L1366.23 456.06 L1366.86 453.19 L1367.49 455.74 L1368.11 452.84 L1368.74 455.03 L1369.37 452.91 L1370 454 L1370.62 452.77 L1371.25 455.33 L1371.88 452.38 L1372.5 455.2 L1373.12 452.45 L1373.75 455.13 L1374.38 452.24 L1375 454.83 L1375.62 452.52 L1376.25 454.12 L1376.88 452.48 L1377.5 454.29 L1378.12 452.38 L1378.75 454.58 L1379.38 451.85 L1380 453 L1380.62 451.76 L1381.25 454.33 L1381.88 451.77 L1382.5 454.28 L1383.12 452.43 L1383.75 454.61 L1384.38 451.84 L1385 454.41 L1385.62 452.09 L1386.25 454.61 L1386.88 452.57 L1387.5 454.74 L1388.12 452.46 L1388.75 454.22 L1389.38 452.52 L1390 453.5 L1390.68 452.29 L1391.37 454.7 L1392.05 452.58 L1392.73 455.68 L1393.42 453.1 L1394.1 454.4 L1394.75 452.78 L1395.4 454.41 L1396.05 451.38 L1396.7 453.53 L1397.35 450.3 L1398 451 L1398.66 448.99 L1399.33 450.34 L1399.99 447.98 L1400.65 449.04 L1401.31 446 L1401.97 447.64 L1402.64 444.71 L1403.3 445.2 L1403.96 444.6 L1404.61 446.23 L1405.27 444.63 L1405.93 447.03 L1406.59 444.51 L1407.24 447.29 L1407.9 446.1 L1408.56 447.73 L1409.21 446.24 L1409.87 449.2 L1410.53 447.6 L1411.19 450.21 L1411.84 448.54 L1412.5 450.7 L1413.2 449.06 L1413.9 450.8 L1414.6 446.94 L1415.3 448.48 L1416 447 L1416.75 445.87 L1417.5 442.5 L1418.2 448.49 L1418.9 451.6 L1419.51 453.21 L1420.12 450.56 L1420.73 452.68 L1421.34 450.86 L1421.95 453.35 L1422.56 450.93 L1423.17 453.11 L1423.78 451.08 L1424.39 453.14 L1425 452 L1425.62 453.5 L1426.25 451.04 L1426.88 453.25 L1427.5 450.58 L1428.12 453.19 L1428.75 450.29 L1429.38 452.49 L1430 449.99 L1430.62 452.59 L1431.25 450.63 L1431.88 452.04 L1432.5 450.1 L1433.12 452.3 L1433.75 450.14 L1434.38 451.91 L1435 451 L1435.62 452.05 L1436.25 450.06 L1436.88 452.55 L1437.5 450.4 L1438.12 452.54 L1438.75 449.73 L1439.38 452.04 L1440 449.71 L1440.62 452.63 L1441.25 449.8 L1441.88 452.32 L1442.5 450.33 L1443.12 452.47 L1443.75 449.84 L1444.38 452.71 L1445 451.5 L1445.62 452.51 L1446.25 450.34 L1446.88 452.37 L1447.5 450.61 L1448.12 452.15 L1448.75 449.86 L1449.38 452.25 L1450 449.71 L1450.62 452.16 L1451.25 450.23 L1451.88 452.33 L1452.5 450.24 L1453.12 452.14 L1453.75 449.5 L1454.38 452.53 L1455 451 L1455.62 452.47 L1456.25 449.79 L1456.88 452.62 L1457.5 449.58 L1458.12 452.36 L1458.75 449.83 L1459.38 451.98 L1460 449.89 L1460.62 452.4 L1461.25 449.93 L1461.88 452.63 L1462.5 450.4 L1463.12 452.17 L1463.75 449.9 L1464.38 452.3 L1465 451.5 L1465.62 452.6 L1466.25 450.4 L1466.88 452.37 L1467.5 449.98 L1468.12 452.89 L1468.75 450.33 L1469.38 452.53 L1470 451.2 L1470.62 452.03 L1471.25 449.69 L1471.88 451.82 L1472.5 449.73 L1473.12 451.31 L1473.75 449.4 L1474.38 451.67 L1475 450 L1475.66 450.69 L1476.31 448.15 L1476.97 450.12 L1477.62 446.54 L1478.28 448.78 L1478.93 446.36 L1479.59 447.62 L1480.24 445.47 L1480.9 445.8 L1481.58 445.29 L1482.25 447.63 L1482.92 446.41 L1483.6 448.8 L1484.28 447.14 L1484.95 450.38 L1485.62 448.01 L1486.3 449.9 L1486.91 448.97 L1487.51 451.28 L1488.12 449.17 L1488.72 451.55 L1489.33 449.63 L1489.93 451.57 L1490.54 449.99 L1491.14 452.67 L1491.75 450.42 L1492.36 452.56 L1492.96 450.28 L1493.57 453.18 L1494.17 450.94 L1494.78 452.96 L1495.38 451.21 L1495.99 453.37 L1496.59 451.34 L1497.2 452.6 L1497.81 451.11 L1498.42 454.2 L1499.03 451.31 L1499.64 453.61 L1500.25 452.18 L1500.86 454.34 L1501.47 451.56 L1502.08 454.27 L1502.69 451.96 L1503.3 453.99 L1503.9 452.27 L1504.51 454.94 L1505.12 452.02 L1505.73 455.01 L1506.34 452.02 L1506.95 454.61 L1507.56 452.92 L1508.17 454.66 L1508.78 452.69 L1509.39 455.25 L1510 454 L1510.6 455.6 L1511.2 452.75 L1511.8 455.45 L1512.4 452.82 L1513 455.39 L1513.6 453.12 L1514.2 455.13 L1514.8 453.02 L1515.4 455.41 L1516 453.01 L1516.6 455.88 L1517.2 453.66 L1517.8 455.54 L1518.4 453.82 L1519 456.09 L1519.6 453.53 L1520.2 455.74 L1520.8 454.19 L1521.4 456.21 L1522 453.85 L1522.6 456.2 L1523.2 454.27 L1523.8 456.49 L1524.4 455.3 L1525.02 455.89 L1525.65 454.04 L1526.27 456.02 L1526.89 453.19 L1527.52 455.91 L1528.14 452.99 L1528.76 455.49 L1529.39 453.29 L1530.01 455.02 L1530.64 452.38 L1531.26 455.15 L1531.88 452.69 L1532.51 454.28 L1533.13 452.25 L1533.75 454.58 L1534.38 452.05 L1535 453 L1535.62 451.88 L1536.23 453.96 L1536.85 450.95 L1537.47 453.23 L1538.08 451.39 L1538.7 452.98 L1539.32 450.7 L1539.93 452.94 L1540.55 450.56 L1541.17 452.7 L1541.78 449.74 L1542.4 452.1 L1543.02 449.86 L1543.63 452.16 L1544.25 449.42 L1544.87 451.69 L1545.48 449.15 L1546.1 449.9 L1546.78 445.01 L1547.46 443.33 L1548.14 436.98 L1548.82 435.54 L1549.5 430 L1550.25 416.16 L1551 400 L1551.7 365.88 L1552.4 330 L1553.5 250 L1554.3 174 L1555.2 250 L1556.3 330 L1557 365.92 L1557.7 400 L1558.37 409.42 L1559.03 415.36 L1559.7 425 L1560.38 426.56 L1561.05 432.07 L1561.72 433.27 L1562.4 438.36 L1563.08 438.99 L1563.75 444.52 L1564.42 446.02 L1565.1 449.9 L1565.8 450.48 L1566.5 453.67 L1567.2 452.44 L1567.9 455.3 L1568.55 453.5 L1569.19 456.06 L1569.84 452.8 L1570.48 455.64 L1571.13 452.79 L1571.77 454.38 L1572.42 451.66 L1573.06 454.28 L1573.71 451.85 L1574.35 453.6 L1575 452 L1575.61 452.64 L1576.23 450.12 L1576.84 451.77 L1577.45 449.48 L1578.07 450.66 L1578.68 448.55 L1579.29 450.14 L1579.91 447.13 L1580.52 449.11 L1581.13 446.3 L1581.75 448.36 L1582.36 446.01 L1582.97 448.07 L1583.59 444.77 L1584.2 445.8 L1584.82 444.45 L1585.44 446.07 L1586.05 443.93 L1586.67 445.87 L1587.29 443.04 L1587.91 445.22 L1588.53 443.04 L1589.15 445.35 L1589.76 442.84 L1590.38 444.43 L1591 443.1 L1591.67 445.52 L1592.33 443.67 L1593 446.81 L1593.67 446.28 L1594.33 448.79 L1595 449 L1595.68 451.13 L1596.37 449.25 L1597.05 452.18 L1597.73 449.89 L1598.42 453.02 L1599.1 452.6" fill="none" stroke="#800000" stroke-width="4.7" stroke-linejoin="round" stroke-linecap="round" />
<polygon points="1000.8,309.8 1010.6,319.6 1000.8,329.4 991,319.6" fill="#ff00ff"/>
<polygon points="1100.7,357.4 1110.5,367.2 1100.7,377 1090.9,367.2" fill="#ff00ff"/>
<polygon points="1155.3,394.8 1164.24,401.3 1160.83,411.8 1149.77,411.8 1146.36,401.3" fill="#ff0000"/>
<polygon points="1202.7,369.7 1212.5,379.5 1202.7,389.3 1192.9,379.5" fill="#ff00ff"/>
<polygon points="1301.3,375.9 1311.1,385.7 1301.3,395.5 1291.5,385.7" fill="#ff00ff"/>
<polygon points="1280.9,65.3 1299.9,65.3 1290.4,81.8" fill="#000080"/>
<polygon points="1343.2,60.6 1362.2,60.6 1352.7,77.1" fill="#000080"/>
<polygon points="1352.6,27.7 1354.93,33.7 1361.35,34.06 1356.36,38.12 1358.01,44.34 1352.6,40.86 1347.19,44.34 1348.84,38.12 1343.85,34.06 1350.27,33.7" fill="#808080" stroke="#707070" stroke-width="0.5" stroke-linejoin="round"/>
<polygon points="1554.3,149.9 1562.9,158.5 1554.3,167.1 1545.7,158.5" fill="#ff00ff"/>
<polygon points="991.5,29.1 1001.3,38.9 991.5,48.7 981.7,38.9" fill="#ff00ff"/>
<polygon points="991.5,67.2 1000.44,73.7 997.03,84.2 985.97,84.2 982.56,73.7" fill="#ff0000"/>
<polygon points="982,108.7 1001,108.7 991.5,125.2" fill="#000080"/>
<polygon points="991.5,143.4 993.83,149.4 1000.25,149.76 995.26,153.82 996.91,160.04 991.5,156.56 986.09,160.04 987.74,153.82 982.75,149.76 989.17,149.4" fill="#808080" stroke="#707070" stroke-width="0.5" stroke-linejoin="round"/>
<text x="1023.8" y="46.6" font-size="25" text-anchor="start" font-weight="bold" fill="#ff00ff" >Ti<tspan font-size="15" dy="8.6">3</tspan><tspan dy="-8.6">C</tspan><tspan font-size="15" dy="8.6">2</tspan></text>
<text x="1023.8" y="84.5" font-size="25" text-anchor="start" font-weight="bold" fill="#ff0000" >TiOF<tspan font-size="15" dy="8.6">2</tspan></text>
<text x="1023.8" y="122.5" font-size="25" text-anchor="start" font-weight="bold" fill="#000080" >Ti<tspan font-size="15" dy="8.6">3</tspan><tspan dy="-8.6">AlC</tspan><tspan font-size="15" dy="8.6">2</tspan></text>
<text stroke="#808080" stroke-width="0.55" x="1023.7" y="160.8" font-size="26.3" text-anchor="start" font-weight="normal" fill="#808080" textLength="42.82" lengthAdjust="spacingAndGlyphs">TiC</text>
<rect x="958" y="19" width="643.8" height="473.3" fill="none" stroke="#000" stroke-width="3.5" stroke-linejoin="round"/>
<text x="823.93" y="32.2" font-size="44.9" text-anchor="start" font-weight="bold" fill="#000" textLength="57.54" lengthAdjust="spacingAndGlyphs">(b)</text>
<text x="1235.83" y="588.3" font-size="37.8" text-anchor="start" font-weight="bold" fill="#000" textLength="38.13" lengthAdjust="spacingAndGlyphs">2θ</text>
<text stroke="#000" stroke-width="0.5" x="1283.87" y="588.3" font-size="37.8" text-anchor="start" font-weight="normal" fill="#000" textLength="39.45" lengthAdjust="spacingAndGlyphs">(°)</text>
<text x="0" y="0" font-size="37" text-anchor="start" font-weight="bold" fill="#000" transform="translate(849.6 359.55) rotate(-90)" >Intensity (a.u.)</text>
<line x1="180.41" y1="1110.6" x2="180.41" y2="1104.6" stroke="#000" stroke-width="2.8" stroke-linecap="round"/>
<line x1="230.12" y1="1110.6" x2="230.12" y2="1099.6" stroke="#000" stroke-width="2.8" stroke-linecap="round"/>
<line x1="279.82" y1="1110.6" x2="279.82" y2="1104.6" stroke="#000" stroke-width="2.8" stroke-linecap="round"/>
<line x1="329.53" y1="1110.6" x2="329.53" y2="1099.6" stroke="#000" stroke-width="2.8" stroke-linecap="round"/>
<line x1="379.24" y1="1110.6" x2="379.24" y2="1104.6" stroke="#000" stroke-width="2.8" stroke-linecap="round"/>
<line x1="428.95" y1="1110.6" x2="428.95" y2="1099.6" stroke="#000" stroke-width="2.8" stroke-linecap="round"/>
<line x1="478.65" y1="1110.6" x2="478.65" y2="1104.6" stroke="#000" stroke-width="2.8" stroke-linecap="round"/>
<line x1="528.36" y1="1110.6" x2="528.36" y2="1099.6" stroke="#000" stroke-width="2.8" stroke-linecap="round"/>
<line x1="578.07" y1="1110.6" x2="578.07" y2="1104.6" stroke="#000" stroke-width="2.8" stroke-linecap="round"/>
<line x1="627.78" y1="1110.6" x2="627.78" y2="1099.6" stroke="#000" stroke-width="2.8" stroke-linecap="round"/>
<line x1="677.48" y1="1110.6" x2="677.48" y2="1104.6" stroke="#000" stroke-width="2.8" stroke-linecap="round"/>
<line x1="727.19" y1="1110.6" x2="727.19" y2="1099.6" stroke="#000" stroke-width="2.8" stroke-linecap="round"/>
<line x1="130.7" y1="1063.05" x2="136.7" y2="1063.05" stroke="#000" stroke-width="2.8" stroke-linecap="round"/>
<line x1="130.7" y1="1015.5" x2="141.7" y2="1015.5" stroke="#000" stroke-width="2.8" stroke-linecap="round"/>
<line x1="130.7" y1="967.95" x2="136.7" y2="967.95" stroke="#000" stroke-width="2.8" stroke-linecap="round"/>
<line x1="130.7" y1="920.4" x2="141.7" y2="920.4" stroke="#000" stroke-width="2.8" stroke-linecap="round"/>
<line x1="130.7" y1="872.85" x2="136.7" y2="872.85" stroke="#000" stroke-width="2.8" stroke-linecap="round"/>
<line x1="130.7" y1="825.3" x2="141.7" y2="825.3" stroke="#000" stroke-width="2.8" stroke-linecap="round"/>
<line x1="130.7" y1="777.75" x2="136.7" y2="777.75" stroke="#000" stroke-width="2.8" stroke-linecap="round"/>
<line x1="130.7" y1="730.2" x2="141.7" y2="730.2" stroke="#000" stroke-width="2.8" stroke-linecap="round"/>
<line x1="130.7" y1="682.65" x2="136.7" y2="682.65" stroke="#000" stroke-width="2.8" stroke-linecap="round"/>
<text x="97.77" y="1147.3" font-size="33.6" text-anchor="start" font-weight="bold" fill="#000" textLength="64.65" lengthAdjust="spacingAndGlyphs">4000</text>
<text x="196.8" y="1147.3" font-size="33.6" text-anchor="start" font-weight="bold" fill="#000" textLength="64.65" lengthAdjust="spacingAndGlyphs">3500</text>
<text x="296.22" y="1147.3" font-size="33.6" text-anchor="start" font-weight="bold" fill="#000" textLength="64.65" lengthAdjust="spacingAndGlyphs">3000</text>
<text x="395.56" y="1147.3" font-size="33.6" text-anchor="start" font-weight="bold" fill="#000" textLength="64.65" lengthAdjust="spacingAndGlyphs">2500</text>
<text x="494.98" y="1147.3" font-size="33.6" text-anchor="start" font-weight="bold" fill="#000" textLength="64.65" lengthAdjust="spacingAndGlyphs">2000</text>
<text x="593.78" y="1147.3" font-size="33.6" text-anchor="start" font-weight="bold" fill="#000" textLength="64.65" lengthAdjust="spacingAndGlyphs">1500</text>
<text x="693.19" y="1147.3" font-size="33.6" text-anchor="start" font-weight="bold" fill="#000" textLength="64.65" lengthAdjust="spacingAndGlyphs">1000</text>
<text x="51.54" y="1120.6" font-size="33.6" text-anchor="start" font-weight="bold" fill="#000" textLength="67.54" lengthAdjust="spacingAndGlyphs">-0.01</text>
<text x="61.89" y="1025.5" font-size="33.6" text-anchor="start" font-weight="bold" fill="#000" textLength="56.74" lengthAdjust="spacingAndGlyphs">0.00</text>
<text x="62.34" y="930.4" font-size="33.6" text-anchor="start" font-weight="bold" fill="#000" textLength="56.74" lengthAdjust="spacingAndGlyphs">0.01</text>
<text x="62.05" y="835.3" font-size="33.6" text-anchor="start" font-weight="bold" fill="#000" textLength="56.74" lengthAdjust="spacingAndGlyphs">0.02</text>
<text x="61.77" y="740.2" font-size="33.6" text-anchor="start" font-weight="bold" fill="#000" textLength="56.74" lengthAdjust="spacingAndGlyphs">0.03</text>
<text x="61.26" y="645.1" font-size="33.6" text-anchor="start" font-weight="bold" fill="#000" textLength="56.74" lengthAdjust="spacingAndGlyphs">0.04</text>
<path d="M131.21 1034.16 L131.93 1029.71 L132.64 1021.38 L133.35 1017.03 L134.07 1019.59 L134.78 1026.87 L135.5 1029.88 L136.21 1029.05 L136.92 1024.2 L137.64 1023.45 L138.44 1019.78 L139.24 1019.42 L140.05 1013.99 L140.85 1012.75 L141.65 1015.43 L142.46 1022.22 L143.26 1024.49 L144.06 1029.88 L144.78 1031.12 L145.49 1035.78 L146.21 1036.31 L146.92 1030.66 L147.63 1021.18 L148.35 1014.89 L149.06 1016.67 L149.77 1023.79 L150.49 1025.6 L151.2 1024.2 L151.92 1018.47 L152.63 1017.03 L153.34 1022.49 L154.06 1030.7 L154.77 1036.31 L155.49 1032.64 L156.2 1025.44 L156.91 1021.31 L157.72 1019.78 L158.52 1021.29 L159.32 1018.87 L160.13 1019.17 L160.84 1022.19 L161.55 1028.98 L162.27 1032.02 L163.07 1029.11 L163.87 1021.6 L164.68 1019.81 L165.48 1013.82 L166.2 1021.9 L166.91 1025.92 L167.62 1034.16 L168.34 1036.47 L169.05 1042.39 L169.76 1044.87 L170.57 1043.46 L171.37 1036.65 L172.17 1036.88 L172.98 1032.02 L173.78 1032.46 L174.58 1028.76 L175.39 1029.85 L176.19 1027.74 L176.99 1030.44 L177.8 1030.07 L178.6 1034.13 L179.4 1034.16 L180.21 1032.69 L181.01 1027.16 L181.81 1027.32 L182.62 1023.45 L183.33 1029.5 L184.04 1030.37 L184.76 1036.31 L185.56 1037.64 L186.36 1041.61 L187.17 1041.02 L187.97 1044.87 L188.68 1040.03 L189.4 1039.51 L190.11 1034.16 L190.91 1032.15 L191.72 1026.86 L192.52 1025.96 L193.32 1021.31 L194.04 1030.75 L194.75 1035.94 L195.47 1044.87 L196.18 1038.98 L196.89 1036.02 L197.61 1029.88 L198.32 1028.07 L199.04 1021.18 L199.75 1019.17 L200.46 1019.67 L201.18 1023.08 L201.89 1023.45 L202.61 1021.51 L203.32 1016.87 L204.03 1014.89 L204.75 1011.86 L205.46 1013.02 L206.18 1010.6 L206.89 1016.97 L207.6 1019.35 L208.32 1025.6 L209.03 1028.17 L209.74 1034.27 L210.46 1036.31 L211.26 1034.57 L212.07 1029.5 L212.87 1029.2 L213.67 1025.6 L214.39 1029.68 L215.1 1030.29 L215.81 1034.16 L216.62 1030.94 L217.42 1031.65 L218.22 1026.13 L219.03 1025.6 L219.83 1026.63 L220.63 1031.57 L221.44 1031 L222.24 1034.16 L223.04 1030.29 L223.84 1030.46 L224.65 1024.69 L225.45 1023.45 L226.25 1021.47 L227.06 1023.1 L227.86 1019.22 L228.66 1019.17 L229.38 1016.68 L230.09 1017.89 L230.81 1014.89 L231.52 1011.03 L232.23 1003.79 L232.95 999.9 L233.75 997.94 L234.55 998.65 L235.36 995.3 L236.16 995.61 L236.87 997.42 L237.59 1002.73 L238.3 1004.18 L239.11 1001.07 L239.91 994.35 L240.71 992.7 L241.51 987.04 L242.32 985.91 L243.12 981.69 L243.92 981.92 L244.73 978.48 L245.44 974.96 L246.16 969.16 L246.87 965.63 L247.67 957.87 L248.48 954.04 L249.28 945.53 L250.08 939.93 L250.8 932.01 L251.51 926.85 L252.22 918.51 L252.94 912.72 L253.65 903.45 L254.37 897.09 L255.44 879.96 L256.15 878.46 L256.86 872.93 L257.58 871.39 L258.29 866.01 L259.01 863.78 L259.72 858.54 L260.79 834.98 L261.59 831.59 L262.4 830.28 L263.2 825.57 L264 824.27 L264.81 821.85 L265.61 822.23 L266.41 818.62 L267.22 817.84 L268.29 810.35 L269 811.25 L269.71 808.54 L270.43 809.28 L271.14 809.85 L271.86 812.9 L272.57 813.56 L273.28 817.6 L274 818.59 L274.71 822.13 L275.52 820.79 L276.32 822.12 L277.12 819.23 L277.93 819.99 L278.64 821.74 L279.35 826.54 L280.07 828.55 L280.87 830.96 L281.67 829.91 L282.48 832.41 L283.28 832.84 L283.99 832.96 L284.71 830.43 L285.42 830.69 L286.22 832.16 L287.03 835.74 L287.83 836.21 L288.63 839.26 L289.44 840.33 L290.24 844.28 L291.04 844.78 L291.85 847.83 L292.56 847.23 L293.27 850.64 L293.99 849.97 L294.79 853.78 L295.59 854.16 L296.4 859.08 L297.2 860.68 L297.92 862.84 L298.63 862.88 L299.34 864.96 L300.06 862.18 L300.77 862.01 L301.48 858.54 L302.2 866.13 L302.91 870.02 L303.63 877.81 L304.34 879.31 L305.05 883.22 L305.77 884.24 L306.57 887.92 L307.37 888.4 L308.18 893.15 L308.98 894.95 L309.69 898.13 L310.41 897.83 L311.12 901.35 L311.84 900.89 L312.55 905.19 L313.26 905.66 L314.07 909 L314.87 908.77 L315.67 913.32 L316.48 914.22 L317.28 918.24 L318.08 918.68 L318.89 923.41 L319.69 924.93 L320.4 929.11 L321.12 929.34 L321.83 933.5 L322.55 933.98 L323.26 937.59 L323.97 936.49 L324.69 940.28 L325.4 939.53 L326.12 942.07 L326.92 944.36 L327.72 949.57 L328.52 950.61 L329.33 954.92 L330.13 953.96 L330.93 955.5 L331.74 952.72 L332.54 953.85 L333.34 951.2 L334.15 952.36 L334.95 948.9 L335.75 948.49 L336.56 944.62 L337.36 944.22 L338.16 939.49 L338.97 937.78 L339.77 935.44 L340.57 936.34 L341.38 933.36 L342.18 933.5 L342.98 930.44 L343.78 929.77 L344.59 925.27 L345.39 923.86 L346.11 922.34 L346.82 923.6 L347.53 921.72 L348.34 924.61 L349.14 924.36 L349.94 928.68 L350.75 929.22 L351.46 931.47 L352.17 931.43 L352.89 934.36 L353.6 933.78 L354.32 937.14 L355.03 937.78 L355.83 940.69 L356.64 940.74 L357.44 945.35 L358.24 946.35 L359.05 951.6 L359.85 953.6 L360.65 960.08 L361.45 963.48 L362.17 967.48 L362.88 968.41 L363.6 972.05 L364.31 975.37 L365.02 981.87 L365.74 984.9 L366.45 987.31 L367.17 985.74 L367.88 989.04 L368.59 988.11 L369.31 991.13 L370.02 991.33 L370.74 993.49 L371.45 993.17 L372.16 996.89 L372.88 995.76 L373.59 999.64 L374.31 999.9 L375.02 1002.33 L375.73 1001.19 L376.45 1003.87 L377.16 1003.2 L377.88 1006.09 L378.59 1006.32 L379.29 1006.8 L380 1005.69 L380.77 1007.61 L381.54 1005.88 L382.3 1009.22 L383.07 1007.7 L383.84 1011.08 L384.61 1008.62 L385.38 1011.07 L386.27 1011.22 L387.17 1014.59 L388.06 1015.1 L388.96 1018.13 L389.86 1018 L390.75 1021.82 L391.56 1021.82 L392.36 1024.86 L393.17 1022.94 L393.98 1026.1 L394.78 1025.85 L395.53 1027.43 L396.28 1025.22 L397.02 1026.97 L397.77 1024.96 L398.52 1027.01 L399.26 1024.76 L400.01 1027.36 L400.76 1025.55 L401.5 1026.52 L402.24 1025.78 L402.97 1028 L403.7 1025.52 L404.43 1028.12 L405.17 1025.45 L405.9 1028.41 L406.63 1025.29 L407.37 1028.42 L408.1 1026.12 L408.83 1028.34 L409.57 1027.2 L410.46 1026.34 L411.36 1022.84 L412.25 1021.82 L413.02 1020.71 L413.79 1023.44 L414.56 1021.18 L415.33 1023.22 L416.09 1021.21 L416.86 1023.81 L417.63 1022.49 L418.38 1023.37 L419.12 1020.41 L419.87 1022.84 L420.62 1019.87 L421.36 1022.13 L422.11 1018.64 L422.86 1020.72 L423.6 1017.87 L424.35 1019.13 L425.12 1017.69 L425.88 1020.02 L426.65 1017.94 L427.42 1020.48 L428.19 1017.52 L428.96 1020.25 L429.72 1019.13 L430.53 1019.89 L431.34 1016.47 L432.14 1019.03 L432.95 1015.33 L433.76 1016.44 L434.65 1017.04 L435.55 1021.4 L436.44 1021.82 L437.25 1023.05 L438.06 1020.92 L438.86 1024.16 L439.67 1021.53 L440.48 1023.16 L441.37 1020.38 L442.27 1021.44 L443.16 1019.13 L443.91 1020.89 L444.66 1017.75 L445.4 1021.26 L446.15 1018.46 L446.9 1021.38 L447.64 1018.96 L448.39 1021.79 L449.14 1018.76 L449.88 1020.48 L450.72 1018.38 L451.56 1019.3 L452.4 1016.27 L453.24 1016.44 L454.59 1001.66 L455.43 1002.6 L456.27 999.51 L457.11 1001.87 L457.95 1000.32 L458.84 1002.45 L459.74 1001.48 L460.63 1004.35 L459.96 1024.51 L460.97 1021.3 L461.98 1016.44 L463.32 1004.35 L464.22 1005.08 L465.11 1009.76 L466.01 1011.07 L466.91 1013.04 L467.8 1011.36 L468.7 1013.76 L469.47 1012.57 L470.23 1014.08 L471 1011.64 L471.77 1014.05 L472.54 1010.77 L473.31 1013.44 L474.07 1011.74 L474.84 1012.91 L475.61 1009.55 L476.38 1011.95 L477.15 1008.98 L477.91 1010.31 L478.68 1007.6 L479.45 1008.38 L480.22 1007.15 L480.98 1009.44 L481.75 1006.44 L482.52 1008.87 L483.29 1005.87 L484.06 1008.52 L484.82 1007.04 L485.63 1007.82 L486.44 1005.38 L487.24 1007.79 L488.05 1004.35 L488.86 1005.69 L489.75 1006.3 L490.65 1010.39 L491.54 1010.4 L492.35 1011.39 L493.16 1007.8 L493.96 1009.68 L494.77 1006.76 L495.58 1007.04 L496.34 1006.44 L497.11 1009.62 L497.88 1007.72 L498.65 1010.52 L499.42 1008.73 L500.18 1012.32 L500.95 1011.74 L501.72 1012.78 L502.49 1010.03 L503.26 1012.74 L504.02 1010.13 L504.79 1012.67 L505.56 1010.34 L506.33 1011.07 L507.22 1011.14 L508.12 1014.91 L509.01 1015.1 L509.91 1017.21 L510.81 1014.37 L511.7 1016.44 L512.6 1016.32 L513.49 1019.44 L514.39 1019.13 L515.16 1019.82 L515.93 1017.58 L516.69 1020.08 L517.46 1016.76 L518.23 1019.38 L519 1016.92 L519.77 1017.79 L520.53 1017.13 L521.3 1019.71 L522.07 1017.02 L522.84 1019.83 L523.61 1017.73 L524.37 1020.3 L525.14 1019.8 L525.89 1020.75 L526.64 1018.83 L527.38 1021.21 L528.13 1018.74 L528.87 1020.9 L529.62 1018.46 L530.37 1020.67 L531.11 1018.36 L531.86 1019.8 L532.61 1018.7 L533.35 1020.6 L534.1 1018.13 L534.85 1019.86 L535.59 1017.42 L536.34 1019.63 L537.09 1017.12 L537.83 1019.16 L538.58 1017.79 L539.39 1019.59 L540.19 1017.95 L541 1020.36 L541.81 1018.58 L542.61 1020.48 L543.42 1017.77 L544.23 1019.05 L545.03 1014.88 L545.84 1016.44 L546.64 1013.76 L547.41 1015.51 L548.18 1013.16 L548.95 1015.79 L549.72 1013 L550.48 1016.33 L551.25 1013.85 L552.02 1015.1 L553.03 1011.35 L554.04 1009.72 L554.88 1008.94 L555.72 1012.37 L556.56 1010.55 L557.4 1013.08 L558.16 1011.2 L558.93 1013.4 L559.7 1011.23 L560.47 1013.38 L561.24 1010.64 L562 1012.21 L562.77 1011.07 L563.67 1013.51 L564.56 1011.7 L565.46 1013.76 L566.35 1008.67 L567.25 1007.47 L568.15 1003 L568.91 1003.95 L569.68 1001.22 L570.45 1003.21 L571.22 1001.28 L571.99 1003.45 L572.75 1000.24 L573.52 1001.66 L574.42 1001.78 L575.31 1006.12 L576.21 1007.04 L577.11 1002.9 L578 994.81 L578.9 990.91 L579.79 987.88 L580.69 988.73 L581.59 985.53 L582.48 986.92 L583.38 985.6 L584.27 986.88 L585.62 973.44 L586.63 971.62 L587.63 968.06 L588.64 972.22 L589.65 974.78 L590 968.52 L590.8 969.91 L591.61 975.12 L592.41 975.25 L593.21 979.23 L593.93 982.61 L594.64 988.74 L595.36 992.08 L596.07 989.47 L596.78 983.39 L597.5 981.37 L598.21 986.11 L598.93 995.86 L599.64 1000.65 L600.35 997.78 L601.07 992.83 L601.78 989.94 L602.5 988.22 L603.21 990.21 L603.92 987.65 L604.64 989.39 L605.35 987.17 L606.07 987.8 L606.87 987.84 L607.67 990.9 L608.48 989.92 L609.28 992.08 L610.08 990.91 L610.89 992.18 L611.69 989.2 L612.49 989.94 L613.21 986.31 L613.92 985.21 L614.64 981.37 L615.71 959.95 L616.51 961.96 L617.31 967.32 L618.12 968.81 L618.92 972.8 L619.63 968.47 L620.35 966.69 L621.06 962.09 L621.78 961.3 L622.49 957.92 L623.2 959.05 L623.92 955.21 L624.63 956.24 L625.35 953.52 L626.15 958.92 L626.95 961.15 L627.76 967.47 L628.56 970.66 L629.27 968.82 L629.99 963.56 L630.7 962.09 L631.42 953.7 L632.13 948.64 L632.84 940.67 L633.65 937.18 L634.45 929.83 L635.25 927.44 L636.06 921.39 L636.86 922.11 L637.66 919.37 L638.47 921.1 L639.27 919.25 L639.99 916.27 L640.7 909.51 L641.41 906.39 L642.13 907.31 L642.84 911.9 L643.56 912.82 L644.27 918.76 L644.98 921.63 L645.7 927.81 L646.5 924.99 L647.31 924.42 L648.11 920.4 L648.91 919.25 L649.63 912.18 L650.34 907.3 L651.05 899.97 L651.77 894.66 L652.48 886 L653.2 880.69 L653.91 883.45 L654.62 889.18 L655.34 891.4 L656.14 894.68 L656.95 894.79 L657.75 898.96 L658.55 899.97 L659.36 897.82 L660.16 892.5 L660.96 891.26 L661.77 887.11 L662.57 889.58 L663.37 888.13 L664.18 891.5 L664.98 891.4 L665.69 901.18 L666.41 907.15 L667.12 917.1 L667.83 920.03 L668.55 925.35 L669.26 927.81 L669.98 925.44 L670.69 919.85 L671.41 917.1 L672.21 917.24 L673.01 919.91 L673.82 919.54 L674.62 921.39 L675.38 920.47 L676.15 922.09 L676.91 920.56 L677.68 922.72 L678.44 920.33 L679.21 922.41 L679.97 921.39 L680.69 925.62 L681.4 926.03 L682.12 929.96 L682.92 922.13 L683.72 918.22 L684.53 909.42 L685.33 904.25 L686.13 903.03 L686.94 904.27 L687.74 901.43 L688.54 902.11 L689.26 892.87 L689.97 886.32 L690.69 876.4 L691.4 866.44 L692.11 853.99 L692.83 844.27 L693.68 831.72 L694.54 820.7 L695.4 827.55 L696.26 837.51 L697.11 844.27 L697.97 853.51 L698.83 861.41 L699.58 852.05 L700.33 839.98 L701.4 818.56 L702.2 812.79 L703 809.96 L703.81 803.01 L704.61 799.28 L705.32 803.37 L706.04 810.13 L706.75 814.28 L707.61 823.98 L708.47 831.41 L709.32 826.05 L710.18 817.71 L711.04 812.13 L711.75 808.81 L712.47 808.71 L713.18 805.07 L713.89 804.38 L714.61 800.76 L715.32 799.28 L716.04 803.53 L716.75 810.49 L717.46 814.28 L718.18 821.63 L718.89 825.81 L719.61 833.56 L720.32 828.78 L721.03 827.08 L721.75 822.84 L722.46 831.38 L723.18 835.77 L723.89 844.27 L724.6 852.86 L725.32 864.16 L726.03 872.12 L726.84 873.61 L727.64 872.19 L728.44 875.1 L729.25 874.26 L729.96 890.07 L730.67 903.22 L731.39 919.25 L732.19 924.86 L732.99 934.36 L733.8 939.14 L734.6 947.1 L735.4 953.21 L736.21 963.35 L737.01 968.49 L737.81 977.09 L738.53 982.79 L739.24 991.05 L739.96 996.37 L740.73 999.28 L741.5 999.44 L742.27 1002.82 L743.04 1003.04 L743.81 1006.01 L744.67 998.5 L745.53 993.41 L746.38 985.66 L747.24 979.3 L748.1 970.66 L748.85 979.14 L749.6 985.66 L750.31 991.49 L751.03 994.57 L751.74 1000.65 L752.45 1001.13 L753.17 1004.74 L753.88 1004.94 L754.69 1003.83 L755.49 999.25 L756.29 999.87 L757.1 996.37 L757.81 998.63 L758.52 997.7 L759.24 1000.3 L759.95 999.33 L760.67 1002.96 L761.38 1002.79 L762.09 1003.19 L762.81 1000.46 L763.52 1001.49 L764.24 998.78 L764.95 1000.29 L765.66 998.51 L766.47 1002.27 L767.27 1002.75 L768.07 1007.75 L768.88 1009.22 L769.68 1007.32 L770.48 1003.04 L771.29 1002.57 L772.09 998.51 L772.89 999.31 L773.7 996.13 L774.5 997.56 L775.3 996.37" fill="none" stroke="#404040" stroke-width="4.6" stroke-linejoin="round" stroke-linecap="round" />
<rect x="130.7" y="635.1" width="646.2" height="475.5" fill="none" stroke="#000" stroke-width="3.5" stroke-linejoin="round"/>
<text x="1.01" y="648.3" font-size="45.6" text-anchor="start" font-weight="bold" fill="#000" textLength="52.67" lengthAdjust="spacingAndGlyphs">(c)</text>
<text x="308.18" y="1202.8" font-size="37.2" text-anchor="start" font-weight="bold" fill="#000" textLength="215.32" lengthAdjust="spacingAndGlyphs">Wavenumber</text>
<text x="532.19" y="1202.8" font-size="37.2" text-anchor="start" font-weight="bold" fill="#000" textLength="59.14" lengthAdjust="spacingAndGlyphs">(cm</text>
<text x="591.81" y="1185.2" font-size="29" text-anchor="start" font-weight="bold" fill="#000" textLength="22.49" lengthAdjust="spacingAndGlyphs">-1</text>
<text x="614.16" y="1202.8" font-size="37.2" text-anchor="start" font-weight="bold" fill="#000" textLength="13.87" lengthAdjust="spacingAndGlyphs">)</text>
<text x="0" y="0" font-size="37.2" text-anchor="start" font-weight="bold" fill="#000" transform="translate(26.8 957.36) rotate(-90)" >Absorbance</text>
<line x1="989.75" y1="1113.3" x2="989.75" y2="1107.3" stroke="#000" stroke-width="2.8" stroke-linecap="round"/>
<line x1="1058.04" y1="1113.3" x2="1058.04" y2="1102.3" stroke="#000" stroke-width="2.8" stroke-linecap="round"/>
<line x1="1126.34" y1="1113.3" x2="1126.34" y2="1107.3" stroke="#000" stroke-width="2.8" stroke-linecap="round"/>
<line x1="1194.63" y1="1113.3" x2="1194.63" y2="1102.3" stroke="#000" stroke-width="2.8" stroke-linecap="round"/>
<line x1="1262.93" y1="1113.3" x2="1262.93" y2="1107.3" stroke="#000" stroke-width="2.8" stroke-linecap="round"/>
<line x1="1331.22" y1="1113.3" x2="1331.22" y2="1102.3" stroke="#000" stroke-width="2.8" stroke-linecap="round"/>
<line x1="1399.52" y1="1113.3" x2="1399.52" y2="1107.3" stroke="#000" stroke-width="2.8" stroke-linecap="round"/>
<line x1="1467.81" y1="1113.3" x2="1467.81" y2="1102.3" stroke="#000" stroke-width="2.8" stroke-linecap="round"/>
<line x1="1536.11" y1="1113.3" x2="1536.11" y2="1107.3" stroke="#000" stroke-width="2.8" stroke-linecap="round"/>
<line x1="955.6" y1="1083.49" x2="961.6" y2="1083.49" stroke="#000" stroke-width="2.8" stroke-linecap="round"/>
<line x1="955.6" y1="1053.67" x2="966.6" y2="1053.67" stroke="#000" stroke-width="2.8" stroke-linecap="round"/>
<line x1="955.6" y1="1023.86" x2="961.6" y2="1023.86" stroke="#000" stroke-width="2.8" stroke-linecap="round"/>
<line x1="955.6" y1="994.05" x2="966.6" y2="994.05" stroke="#000" stroke-width="2.8" stroke-linecap="round"/>
<line x1="955.6" y1="964.24" x2="961.6" y2="964.24" stroke="#000" stroke-width="2.8" stroke-linecap="round"/>
<line x1="955.6" y1="934.42" x2="966.6" y2="934.42" stroke="#000" stroke-width="2.8" stroke-linecap="round"/>
<line x1="955.6" y1="904.61" x2="961.6" y2="904.61" stroke="#000" stroke-width="2.8" stroke-linecap="round"/>
<line x1="955.6" y1="874.8" x2="966.6" y2="874.8" stroke="#000" stroke-width="2.8" stroke-linecap="round"/>
<line x1="955.6" y1="844.99" x2="961.6" y2="844.99" stroke="#000" stroke-width="2.8" stroke-linecap="round"/>
<line x1="955.6" y1="815.17" x2="966.6" y2="815.17" stroke="#000" stroke-width="2.8" stroke-linecap="round"/>
<line x1="955.6" y1="785.36" x2="961.6" y2="785.36" stroke="#000" stroke-width="2.8" stroke-linecap="round"/>
<line x1="955.6" y1="755.55" x2="966.6" y2="755.55" stroke="#000" stroke-width="2.8" stroke-linecap="round"/>
<line x1="955.6" y1="725.74" x2="961.6" y2="725.74" stroke="#000" stroke-width="2.8" stroke-linecap="round"/>
<line x1="955.6" y1="695.92" x2="966.6" y2="695.92" stroke="#000" stroke-width="2.8" stroke-linecap="round"/>
<line x1="955.6" y1="666.11" x2="961.6" y2="666.11" stroke="#000" stroke-width="2.8" stroke-linecap="round"/>
<text x="1033.38" y="1149.5" font-size="33.2" text-anchor="start" font-weight="bold" fill="#000" >200</text>
<text x="1170.44" y="1149.5" font-size="33.2" text-anchor="start" font-weight="bold" fill="#000" >400</text>
<text x="1306.69" y="1149.5" font-size="33.2" text-anchor="start" font-weight="bold" fill="#000" >600</text>
<text x="1443.29" y="1149.5" font-size="33.2" text-anchor="start" font-weight="bold" fill="#000" >800</text>
<text x="1570.8" y="1149.5" font-size="33.2" text-anchor="start" font-weight="bold" fill="#000" >1000</text>
<text x="911.17" y="1124" font-size="33.2" text-anchor="start" font-weight="bold" fill="#000" >86</text>
<text x="911.3" y="1064.38" font-size="33.2" text-anchor="start" font-weight="bold" fill="#000" >88</text>
<text x="911.46" y="1004.75" font-size="33.2" text-anchor="start" font-weight="bold" fill="#000" >90</text>
<text x="911.63" y="945.12" font-size="33.2" text-anchor="start" font-weight="bold" fill="#000" >92</text>
<text x="910.82" y="885.5" font-size="33.2" text-anchor="start" font-weight="bold" fill="#000" >94</text>
<text x="911.17" y="825.88" font-size="33.2" text-anchor="start" font-weight="bold" fill="#000" >96</text>
<text x="911.3" y="766.25" font-size="33.2" text-anchor="start" font-weight="bold" fill="#000" >98</text>
<text x="911.46" y="706.62" font-size="33.2" text-anchor="start" font-weight="bold" fill="#000" >00</text>
<text x="911.63" y="647" font-size="33.2" text-anchor="start" font-weight="bold" fill="#000" >02</text>
<line x1="957" y1="700.8" x2="1173.6" y2="700.8" stroke="#0000ff" stroke-width="1.7" stroke-dasharray="6.5 5.5"/>
<line x1="1056" y1="785.7" x2="1253.1" y2="785.7" stroke="#0000ff" stroke-width="1.7" stroke-dasharray="6.5 5.5"/>
<line x1="1215.3" y1="924.8" x2="1432.4" y2="924.8" stroke="#0000ff" stroke-width="1.7" stroke-dasharray="6.5 5.5"/>
<line x1="1236.6" y1="1077.8" x2="1603" y2="1077.8" stroke="#0000ff" stroke-width="1.7" stroke-dasharray="6.5 5.5"/>
<line x1="1148.9" y1="714.9" x2="1148.9" y2="769.1" stroke="#000" stroke-width="1.8" stroke-dasharray="6 4"/>
<polygon points="1148.9,702.6 1145,715.9 1152.8,715.9" fill="#000"/>
<polygon points="1148.9,781.4 1145,768.1 1152.8,768.1" fill="#000"/>
<line x1="1234.9" y1="802.6" x2="1234.9" y2="907.6" stroke="#000" stroke-width="1.8" stroke-dasharray="6 4"/>
<polygon points="1234.9,790.3 1231,803.6 1238.8,803.6" fill="#000"/>
<polygon points="1234.9,919.9 1231,906.6 1238.8,906.6" fill="#000"/>
<line x1="1307" y1="937.9" x2="1307" y2="1064.6" stroke="#000" stroke-width="1.8" stroke-dasharray="6 4"/>
<polygon points="1307,925.6 1303.1,938.9 1310.9,938.9" fill="#000"/>
<polygon points="1307,1076.9 1303.1,1063.6 1310.9,1063.6" fill="#000"/>
<text x="1127.97" y="750.9" font-size="29" text-anchor="start" font-weight="bold" fill="#000" textLength="11.85" lengthAdjust="spacingAndGlyphs">I</text>
<text x="1205.97" y="855.4" font-size="28" text-anchor="start" font-weight="bold" fill="#000" textLength="21.46" lengthAdjust="spacingAndGlyphs">II</text>
<text x="1267.27" y="1017.1" font-size="28" text-anchor="start" font-weight="bold" fill="#000" textLength="32.26" lengthAdjust="spacingAndGlyphs">III</text>
<path d="M955.8 701.6 C957.85 703.13 963.78 707.6 968.1 710.8 C972.42 714 977.17 717.55 981.7 720.8 C986.23 724.05 990.77 727.2 995.3 730.3 C999.83 733.4 1004.67 736.52 1008.9 739.4 C1013.13 742.28 1017.22 744.95 1020.7 747.6 C1024.18 750.25 1026.48 752.22 1029.8 755.3 C1033.12 758.38 1037.28 762.63 1040.6 766.1 C1043.92 769.57 1046.72 772.88 1049.7 776.1 C1052.68 779.32 1055.83 782.58 1058.5 785.4 C1061.17 788.22 1062.67 790.2 1065.7 793 C1068.73 795.8 1072.83 799.35 1076.7 802.2 C1080.57 805.05 1084.83 807.57 1088.9 810.1 C1092.97 812.63 1097.03 815.17 1101.1 817.4 C1105.17 819.63 1109.23 821.67 1113.3 823.5 C1117.37 825.33 1121.43 826.97 1125.5 828.4 C1129.57 829.83 1133.62 830.88 1137.7 832.1 C1141.78 833.32 1145.92 834.48 1150 835.7 C1154.08 836.92 1158.13 837.97 1162.2 839.4 C1166.27 840.83 1171.15 843 1174.4 844.3 C1177.65 845.6 1178.65 845.57 1181.7 847.2 C1184.75 848.83 1188.83 851.63 1192.7 854.1 C1196.57 856.57 1200.82 859.35 1204.9 862 C1208.98 864.65 1213.12 868.03 1217.2 870 C1221.28 871.97 1225.23 872.62 1229.4 873.8 C1233.57 874.98 1238.03 875.73 1242.2 877.1 C1246.37 878.47 1250.32 880.37 1254.4 882 C1258.48 883.63 1262.62 885.37 1266.7 886.9 C1270.78 888.43 1274.83 889.78 1278.9 891.2 C1282.97 892.62 1287.03 894.08 1291.1 895.4 C1295.17 896.72 1299.23 897.97 1303.3 899.1 C1307.37 900.23 1311.43 901.28 1315.5 902.2 C1319.57 903.12 1323.62 903.9 1327.7 904.6 C1331.78 905.3 1335.92 905.78 1340 906.4 C1344.08 907.02 1348.13 907.68 1352.2 908.3 C1356.27 908.92 1360.33 909.4 1364.4 910.1 C1368.47 910.8 1372.53 911.68 1376.6 912.5 C1380.67 913.32 1384.73 914.18 1388.8 915 C1392.87 915.82 1396.92 916.48 1401 917.4 C1405.08 918.32 1410.08 919.6 1413.3 920.5 C1416.52 921.4 1416.57 921.65 1420.3 922.8 C1424.03 923.95 1430.53 925.33 1435.7 927.4 C1440.87 929.47 1446.08 932.33 1451.3 935.2 C1456.52 938.07 1461.78 941.33 1467 944.6 C1472.22 947.87 1477.38 951.02 1482.6 954.8 C1487.82 958.58 1493.08 962.6 1498.3 967.3 C1503.52 972 1508.68 977.27 1513.9 983 C1519.12 988.73 1524.38 994.93 1529.6 1001.7 C1534.82 1008.47 1539.98 1016.82 1545.2 1023.6 C1550.42 1030.38 1555.68 1036.65 1560.9 1042.4 C1566.12 1048.15 1571.28 1053.4 1576.5 1058.1 C1581.72 1062.8 1587.9 1067.6 1592.2 1070.6 C1596.5 1073.6 1600.62 1075.18 1602.3 1076.1" fill="none" stroke="#000" stroke-width="4.7" stroke-linejoin="round" stroke-linecap="round" />
<line x1="1333.32" y1="862.9" x2="1333.32" y2="860.1" stroke="#0000ff" stroke-width="1.5" />
<line x1="1361.35" y1="862.9" x2="1361.35" y2="857.9" stroke="#0000ff" stroke-width="1.5" />
<line x1="1389.38" y1="862.9" x2="1389.38" y2="860.1" stroke="#0000ff" stroke-width="1.5" />
<line x1="1417.41" y1="862.9" x2="1417.41" y2="857.9" stroke="#0000ff" stroke-width="1.5" />
<line x1="1445.44" y1="862.9" x2="1445.44" y2="860.1" stroke="#0000ff" stroke-width="1.5" />
<line x1="1473.47" y1="862.9" x2="1473.47" y2="857.9" stroke="#0000ff" stroke-width="1.5" />
<line x1="1501.51" y1="862.9" x2="1501.51" y2="860.1" stroke="#0000ff" stroke-width="1.5" />
<line x1="1529.54" y1="862.9" x2="1529.54" y2="857.9" stroke="#0000ff" stroke-width="1.5" />
<line x1="1557.57" y1="862.9" x2="1557.57" y2="860.1" stroke="#0000ff" stroke-width="1.5" />
<line x1="1319.3" y1="666.27" x2="1322.1" y2="666.27" stroke="#0000ff" stroke-width="1.5" />
<line x1="1319.3" y1="684.15" x2="1324.3" y2="684.15" stroke="#0000ff" stroke-width="1.5" />
<line x1="1319.3" y1="702.02" x2="1322.1" y2="702.02" stroke="#0000ff" stroke-width="1.5" />
<line x1="1319.3" y1="719.9" x2="1324.3" y2="719.9" stroke="#0000ff" stroke-width="1.5" />
<line x1="1319.3" y1="737.77" x2="1322.1" y2="737.77" stroke="#0000ff" stroke-width="1.5" />
<line x1="1319.3" y1="755.65" x2="1324.3" y2="755.65" stroke="#0000ff" stroke-width="1.5" />
<line x1="1319.3" y1="773.52" x2="1322.1" y2="773.52" stroke="#0000ff" stroke-width="1.5" />
<line x1="1319.3" y1="791.4" x2="1324.3" y2="791.4" stroke="#0000ff" stroke-width="1.5" />
<line x1="1319.3" y1="809.27" x2="1322.1" y2="809.27" stroke="#0000ff" stroke-width="1.5" />
<line x1="1319.3" y1="827.15" x2="1324.3" y2="827.15" stroke="#0000ff" stroke-width="1.5" />
<line x1="1319.3" y1="845.02" x2="1322.1" y2="845.02" stroke="#0000ff" stroke-width="1.5" />
<text x="1349.47" y="879.8" font-size="15.8" text-anchor="start" font-weight="bold" fill="#0000ff" >200</text>
<text x="1405.75" y="879.8" font-size="15.8" text-anchor="start" font-weight="bold" fill="#0000ff" >400</text>
<text x="1461.65" y="879.8" font-size="15.8" text-anchor="start" font-weight="bold" fill="#0000ff" >600</text>
<text x="1517.73" y="879.8" font-size="15.8" text-anchor="start" font-weight="bold" fill="#0000ff" >800</text>
<text x="1569.47" y="879.8" font-size="15.8" text-anchor="start" font-weight="bold" fill="#0000ff" >1000</text>
<text x="1287.45" y="653.2" font-size="15.8" text-anchor="start" font-weight="bold" fill="#0000ff" >0.00</text>
<text x="1282.17" y="688.95" font-size="15.8" text-anchor="start" font-weight="bold" fill="#0000ff" >-0.05</text>
<text x="1282.19" y="724.7" font-size="15.8" text-anchor="start" font-weight="bold" fill="#0000ff" >-0.10</text>
<text x="1282.17" y="760.45" font-size="15.8" text-anchor="start" font-weight="bold" fill="#0000ff" >-0.15</text>
<text x="1282.19" y="796.2" font-size="15.8" text-anchor="start" font-weight="bold" fill="#0000ff" >-0.20</text>
<text x="1282.17" y="831.95" font-size="15.8" text-anchor="start" font-weight="bold" fill="#0000ff" >-0.25</text>
<text x="1282.19" y="867.7" font-size="15.8" text-anchor="start" font-weight="bold" fill="#0000ff" >-0.30</text>
<path d="M1319.28 788.86 C1319.68 787.87 1320.67 785.08 1321.67 782.89 C1322.66 780.7 1324.14 777.71 1325.25 775.72 C1326.37 773.73 1327.36 771.94 1328.36 770.95 C1329.35 769.95 1330.27 769.67 1331.22 769.75 C1332.18 769.83 1332.9 770.03 1334.09 771.42 C1335.28 772.82 1336.68 775.01 1338.39 778.11 C1340.1 781.22 1342.37 786.27 1344.36 790.06 C1346.35 793.84 1348.54 798.42 1350.33 800.81 C1352.13 803.2 1353.72 804.39 1355.11 804.39 C1356.51 804.39 1357.5 802.8 1358.7 800.81 C1359.89 798.82 1361.08 796.23 1362.28 792.45 C1363.47 788.66 1364.67 782.89 1365.86 778.11 C1367.06 773.33 1368.05 769.35 1369.45 763.78 C1370.84 758.21 1372.63 749.84 1374.22 744.67 C1375.82 739.49 1377.41 736.31 1379 732.72 C1380.59 729.14 1382.19 725.88 1383.78 723.17 C1385.37 720.46 1386.96 718.27 1388.56 716.48 C1390.15 714.69 1392.06 713.21 1393.33 712.42 C1394.61 711.62 1395.21 711.7 1396.2 711.7 C1397.2 711.7 1398.19 711.7 1399.31 712.42 C1400.42 713.13 1401.5 714.41 1402.89 716 C1404.28 717.59 1406.08 720.06 1407.67 721.97 C1409.26 723.88 1411.05 726.15 1412.45 727.47 C1413.84 728.78 1414.91 729.38 1416.03 729.86 C1417.14 730.33 1418.06 730.49 1419.14 730.33 C1420.21 730.18 1421.21 729.9 1422.48 728.9 C1423.75 727.91 1425.27 726.31 1426.78 724.36 C1428.29 722.41 1429.96 719.39 1431.56 717.2 C1433.15 715.01 1434.74 712.94 1436.34 711.22 C1437.93 709.51 1439.52 708.12 1441.11 706.92 C1442.71 705.73 1444.3 704.85 1445.89 704.06 C1447.48 703.26 1449.08 702.74 1450.67 702.15 C1452.26 701.55 1453.85 701.23 1455.45 700.47 C1457.04 699.72 1458.43 698.92 1460.22 697.61 C1462.02 696.29 1464.21 694.3 1466.2 692.59 C1468.19 690.88 1470.18 688.93 1472.17 687.33 C1474.16 685.74 1476.35 684.11 1478.14 683.03 C1479.93 681.96 1481.53 681.36 1482.92 680.88 C1484.31 680.41 1485.31 680.29 1486.5 680.17 C1487.7 680.05 1488.69 680.01 1490.09 680.17 C1491.48 680.33 1493.27 680.53 1494.86 681.12 C1496.46 681.72 1498.05 682.64 1499.64 683.75 C1501.23 684.87 1502.83 686.1 1504.42 687.81 C1506.01 689.52 1507.6 691.59 1509.2 694.02 C1510.79 696.45 1512.38 699.32 1513.98 702.38 C1515.57 705.45 1517.16 708.87 1518.75 712.42 C1520.35 715.96 1521.74 719.86 1523.53 723.65 C1525.32 727.43 1527.71 731.01 1529.5 735.11 C1531.29 739.21 1532.69 743.47 1534.28 748.25 C1535.87 753.03 1537.47 757.61 1539.06 763.78 C1540.65 769.95 1542.24 777.32 1543.84 785.28 C1545.43 793.24 1547.22 803.99 1548.61 811.56 C1550.01 819.12 1551 825.29 1552.2 830.67 C1553.39 836.04 1554.51 840.62 1555.78 843.81 C1557.06 846.99 1558.57 849.1 1559.84 849.78 C1561.12 850.46 1562.19 849.86 1563.43 847.87 C1564.66 845.88 1565.93 842.29 1567.25 837.84 C1568.56 833.38 1570.04 827.09 1571.31 821.11 C1572.58 815.14 1573.82 808.77 1574.89 802 C1575.97 795.23 1576.76 788.07 1577.76 780.5 C1578.75 772.94 1579.95 764.18 1580.86 756.61 C1581.78 749.05 1582.54 741.48 1583.25 735.11 C1583.97 728.74 1584.85 721.18 1585.16 718.39" fill="none" stroke="#0000ff" stroke-width="2.1" stroke-linejoin="round" stroke-linecap="round" />
<rect x="1319.3" y="648.4" width="266.3" height="214.5" fill="none" stroke="#0000ff" stroke-width="1.8" stroke-linejoin="round"/>
<text x="1375.08" y="902.3" font-size="20.2" text-anchor="start" font-weight="bold" fill="#0000ff" >Temperature (°C)</text>
<text x="0" y="0" font-size="20.2" text-anchor="start" font-weight="bold" fill="#0000ff" transform="translate(1273.9 870.36) rotate(-90)" >Derivative weight (%/min)</text>
<rect x="955.6" y="636.3" width="648.8" height="477" fill="none" stroke="#000" stroke-width="3.5" stroke-linejoin="round"/>
<text x="823.39" y="648.3" font-size="45.8" text-anchor="start" font-weight="bold" fill="#000" textLength="58.62" lengthAdjust="spacingAndGlyphs">(d)</text>
<text x="1112.62" y="1205.6" font-size="37.6" text-anchor="start" font-weight="bold" fill="#000" textLength="210.34" lengthAdjust="spacingAndGlyphs">Temperature</text>
<text x="1329.27" y="1204.02" font-size="30.97" font-weight="bold" fill="#000" style="font-family:'Noto Serif CJK SC',serif" textLength="37.12" lengthAdjust="spacingAndGlyphs">（</text>
<text x="1368.8" y="1205.6" font-size="37.8" text-anchor="start" font-weight="bold" fill="#000" >°C</text>
<text x="1412.61" y="1203.97" font-size="31.5" font-weight="bold" fill="#000" style="font-family:'Noto Serif CJK SC',serif" textLength="38.8" lengthAdjust="spacingAndGlyphs">）</text>
</svg></body></html>
